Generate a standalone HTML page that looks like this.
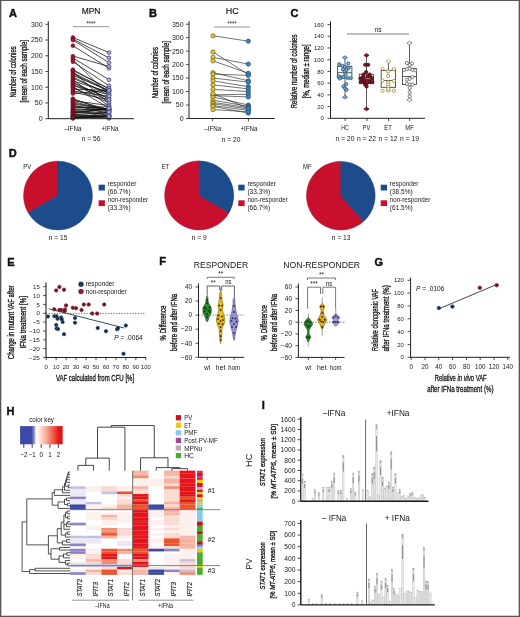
<!DOCTYPE html>
<html><head><meta charset="utf-8"><title>Figure</title>
<style>html,body{margin:0;padding:0;background:#fff;}svg{display:block;will-change:transform;}text{font-family:"Liberation Sans", sans-serif;}</style>
</head><body>
<svg width="520" height="617" viewBox="0 0 520 617" font-family='"Liberation Sans", sans-serif'>
<rect x="0.00" y="0.00" width="520.00" height="617.00" fill="#fff" />
<text x="12.90" y="17.15" font-size="11" text-anchor="middle" fill="#111" font-weight="bold" stroke="#111" stroke-width="0.45">A</text>
<text x="91.00" y="13.94" font-size="8.4" text-anchor="middle" fill="#151515" textLength="18.70" lengthAdjust="spacingAndGlyphs" stroke="#151515" stroke-width="0.15">MPN</text>
<line x1="72.90" y1="37.51" x2="109.00" y2="52.61" stroke="#111" stroke-width="0.75" />
<line x1="72.90" y1="39.08" x2="109.00" y2="57.96" stroke="#111" stroke-width="0.75" />
<line x1="72.90" y1="40.03" x2="109.00" y2="62.68" stroke="#111" stroke-width="0.75" />
<line x1="72.90" y1="45.69" x2="109.00" y2="68.35" stroke="#111" stroke-width="0.75" />
<line x1="72.90" y1="56.07" x2="109.00" y2="66.46" stroke="#111" stroke-width="0.75" />
<line x1="72.90" y1="57.96" x2="109.00" y2="79.68" stroke="#111" stroke-width="0.75" />
<line x1="72.90" y1="59.85" x2="109.00" y2="95.10" stroke="#111" stroke-width="0.75" />
<line x1="72.90" y1="61.74" x2="109.00" y2="85.66" stroke="#111" stroke-width="0.75" />
<line x1="72.90" y1="69.61" x2="109.00" y2="88.97" stroke="#111" stroke-width="0.75" />
<line x1="72.90" y1="70.55" x2="109.00" y2="88.54" stroke="#111" stroke-width="0.75" />
<line x1="72.90" y1="71.50" x2="109.00" y2="103.59" stroke="#111" stroke-width="0.75" />
<line x1="72.90" y1="72.75" x2="109.00" y2="90.59" stroke="#111" stroke-width="0.75" />
<line x1="72.90" y1="74.01" x2="109.00" y2="90.91" stroke="#111" stroke-width="0.75" />
<line x1="72.90" y1="75.27" x2="109.00" y2="90.90" stroke="#111" stroke-width="0.75" />
<line x1="72.90" y1="76.84" x2="109.00" y2="95.31" stroke="#111" stroke-width="0.75" />
<line x1="72.90" y1="78.42" x2="109.00" y2="93.29" stroke="#111" stroke-width="0.75" />
<line x1="72.90" y1="79.68" x2="109.00" y2="106.05" stroke="#111" stroke-width="0.75" />
<line x1="72.90" y1="80.94" x2="109.00" y2="92.20" stroke="#111" stroke-width="0.75" />
<line x1="72.90" y1="82.19" x2="109.00" y2="99.05" stroke="#111" stroke-width="0.75" />
<line x1="72.90" y1="83.45" x2="109.00" y2="97.90" stroke="#111" stroke-width="0.75" />
<line x1="72.90" y1="84.71" x2="109.00" y2="100.47" stroke="#111" stroke-width="0.75" />
<line x1="72.90" y1="85.66" x2="109.00" y2="94.65" stroke="#111" stroke-width="0.75" />
<line x1="72.90" y1="86.60" x2="109.00" y2="108.13" stroke="#111" stroke-width="0.75" />
<line x1="72.90" y1="87.86" x2="109.00" y2="102.63" stroke="#111" stroke-width="0.75" />
<line x1="72.90" y1="89.12" x2="109.00" y2="90.38" stroke="#111" stroke-width="0.75" />
<line x1="72.90" y1="91.01" x2="109.00" y2="96.23" stroke="#111" stroke-width="0.75" />
<line x1="72.90" y1="92.27" x2="109.00" y2="99.66" stroke="#111" stroke-width="0.75" />
<line x1="72.90" y1="93.52" x2="109.00" y2="90.38" stroke="#111" stroke-width="0.75" />
<line x1="72.90" y1="98.56" x2="109.00" y2="111.71" stroke="#111" stroke-width="0.75" />
<line x1="72.90" y1="99.82" x2="109.00" y2="109.44" stroke="#111" stroke-width="0.75" />
<line x1="72.90" y1="100.76" x2="109.00" y2="105.44" stroke="#111" stroke-width="0.75" />
<line x1="72.90" y1="101.71" x2="109.00" y2="110.09" stroke="#111" stroke-width="0.75" />
<line x1="72.90" y1="102.97" x2="109.00" y2="109.63" stroke="#111" stroke-width="0.75" />
<line x1="72.90" y1="103.91" x2="109.00" y2="109.69" stroke="#111" stroke-width="0.75" />
<line x1="72.90" y1="104.85" x2="109.00" y2="113.60" stroke="#111" stroke-width="0.75" />
<line x1="72.90" y1="106.11" x2="109.00" y2="108.95" stroke="#111" stroke-width="0.75" />
<line x1="72.90" y1="107.06" x2="109.00" y2="109.67" stroke="#111" stroke-width="0.75" />
<line x1="72.90" y1="108.00" x2="109.00" y2="106.65" stroke="#111" stroke-width="0.75" />
<line x1="72.90" y1="108.94" x2="109.00" y2="110.02" stroke="#111" stroke-width="0.75" />
<line x1="72.90" y1="109.89" x2="109.00" y2="109.47" stroke="#111" stroke-width="0.75" />
<line x1="72.90" y1="110.52" x2="109.00" y2="115.30" stroke="#111" stroke-width="0.75" />
<line x1="72.90" y1="111.15" x2="109.00" y2="109.97" stroke="#111" stroke-width="0.75" />
<line x1="72.90" y1="111.78" x2="109.00" y2="112.12" stroke="#111" stroke-width="0.75" />
<line x1="72.90" y1="112.41" x2="109.00" y2="114.05" stroke="#111" stroke-width="0.75" />
<line x1="72.90" y1="113.04" x2="109.00" y2="108.05" stroke="#111" stroke-width="0.75" />
<line x1="72.90" y1="113.66" x2="109.00" y2="108.42" stroke="#111" stroke-width="0.75" />
<line x1="72.90" y1="114.29" x2="109.00" y2="116.43" stroke="#111" stroke-width="0.75" />
<line x1="72.90" y1="114.92" x2="109.00" y2="111.64" stroke="#111" stroke-width="0.75" />
<line x1="72.90" y1="115.55" x2="109.00" y2="115.45" stroke="#111" stroke-width="0.75" />
<line x1="72.90" y1="116.18" x2="109.00" y2="116.55" stroke="#111" stroke-width="0.75" />
<line x1="72.90" y1="116.81" x2="109.00" y2="116.37" stroke="#111" stroke-width="0.75" />
<line x1="72.90" y1="117.13" x2="109.00" y2="118.39" stroke="#111" stroke-width="0.75" />
<line x1="72.90" y1="117.44" x2="109.00" y2="117.38" stroke="#111" stroke-width="0.75" />
<line x1="72.90" y1="117.76" x2="109.00" y2="115.91" stroke="#111" stroke-width="0.75" />
<line x1="72.90" y1="118.07" x2="109.00" y2="112.15" stroke="#111" stroke-width="0.75" />
<line x1="72.90" y1="118.39" x2="109.00" y2="116.38" stroke="#111" stroke-width="0.75" />
<circle cx="72.90" cy="37.51" r="1.9" fill="#a01a34" stroke="#62081a" stroke-width="0.55"/>
<circle cx="72.90" cy="39.08" r="1.9" fill="#a01a34" stroke="#62081a" stroke-width="0.55"/>
<circle cx="72.90" cy="40.03" r="1.9" fill="#a01a34" stroke="#62081a" stroke-width="0.55"/>
<circle cx="72.90" cy="45.69" r="1.9" fill="#a01a34" stroke="#62081a" stroke-width="0.55"/>
<circle cx="72.90" cy="56.07" r="1.9" fill="#a01a34" stroke="#62081a" stroke-width="0.55"/>
<circle cx="72.90" cy="57.96" r="1.9" fill="#a01a34" stroke="#62081a" stroke-width="0.55"/>
<circle cx="72.90" cy="59.85" r="1.9" fill="#a01a34" stroke="#62081a" stroke-width="0.55"/>
<circle cx="72.90" cy="61.74" r="1.9" fill="#a01a34" stroke="#62081a" stroke-width="0.55"/>
<circle cx="72.90" cy="69.61" r="1.9" fill="#a01a34" stroke="#62081a" stroke-width="0.55"/>
<circle cx="72.90" cy="70.55" r="1.9" fill="#a01a34" stroke="#62081a" stroke-width="0.55"/>
<circle cx="72.90" cy="71.50" r="1.9" fill="#a01a34" stroke="#62081a" stroke-width="0.55"/>
<circle cx="72.90" cy="72.75" r="1.9" fill="#a01a34" stroke="#62081a" stroke-width="0.55"/>
<circle cx="72.90" cy="74.01" r="1.9" fill="#a01a34" stroke="#62081a" stroke-width="0.55"/>
<circle cx="72.90" cy="75.27" r="1.9" fill="#a01a34" stroke="#62081a" stroke-width="0.55"/>
<circle cx="72.90" cy="76.84" r="1.9" fill="#a01a34" stroke="#62081a" stroke-width="0.55"/>
<circle cx="72.90" cy="78.42" r="1.9" fill="#a01a34" stroke="#62081a" stroke-width="0.55"/>
<circle cx="72.90" cy="79.68" r="1.9" fill="#a01a34" stroke="#62081a" stroke-width="0.55"/>
<circle cx="72.90" cy="80.94" r="1.9" fill="#a01a34" stroke="#62081a" stroke-width="0.55"/>
<circle cx="72.90" cy="82.19" r="1.9" fill="#a01a34" stroke="#62081a" stroke-width="0.55"/>
<circle cx="72.90" cy="83.45" r="1.9" fill="#a01a34" stroke="#62081a" stroke-width="0.55"/>
<circle cx="72.90" cy="84.71" r="1.9" fill="#a01a34" stroke="#62081a" stroke-width="0.55"/>
<circle cx="72.90" cy="85.66" r="1.9" fill="#a01a34" stroke="#62081a" stroke-width="0.55"/>
<circle cx="72.90" cy="86.60" r="1.9" fill="#a01a34" stroke="#62081a" stroke-width="0.55"/>
<circle cx="72.90" cy="87.86" r="1.9" fill="#a01a34" stroke="#62081a" stroke-width="0.55"/>
<circle cx="72.90" cy="89.12" r="1.9" fill="#a01a34" stroke="#62081a" stroke-width="0.55"/>
<circle cx="72.90" cy="91.01" r="1.9" fill="#a01a34" stroke="#62081a" stroke-width="0.55"/>
<circle cx="72.90" cy="92.27" r="1.9" fill="#a01a34" stroke="#62081a" stroke-width="0.55"/>
<circle cx="72.90" cy="93.52" r="1.9" fill="#a01a34" stroke="#62081a" stroke-width="0.55"/>
<circle cx="72.90" cy="98.56" r="1.9" fill="#a01a34" stroke="#62081a" stroke-width="0.55"/>
<circle cx="72.90" cy="99.82" r="1.9" fill="#a01a34" stroke="#62081a" stroke-width="0.55"/>
<circle cx="72.90" cy="100.76" r="1.9" fill="#a01a34" stroke="#62081a" stroke-width="0.55"/>
<circle cx="72.90" cy="101.71" r="1.9" fill="#a01a34" stroke="#62081a" stroke-width="0.55"/>
<circle cx="72.90" cy="102.97" r="1.9" fill="#a01a34" stroke="#62081a" stroke-width="0.55"/>
<circle cx="72.90" cy="103.91" r="1.9" fill="#a01a34" stroke="#62081a" stroke-width="0.55"/>
<circle cx="72.90" cy="104.85" r="1.9" fill="#a01a34" stroke="#62081a" stroke-width="0.55"/>
<circle cx="72.90" cy="106.11" r="1.9" fill="#a01a34" stroke="#62081a" stroke-width="0.55"/>
<circle cx="72.90" cy="107.06" r="1.9" fill="#a01a34" stroke="#62081a" stroke-width="0.55"/>
<circle cx="72.90" cy="108.00" r="1.9" fill="#a01a34" stroke="#62081a" stroke-width="0.55"/>
<circle cx="72.90" cy="108.94" r="1.9" fill="#a01a34" stroke="#62081a" stroke-width="0.55"/>
<circle cx="72.90" cy="109.89" r="1.9" fill="#a01a34" stroke="#62081a" stroke-width="0.55"/>
<circle cx="72.90" cy="110.52" r="1.9" fill="#a01a34" stroke="#62081a" stroke-width="0.55"/>
<circle cx="72.90" cy="111.15" r="1.9" fill="#a01a34" stroke="#62081a" stroke-width="0.55"/>
<circle cx="72.90" cy="111.78" r="1.9" fill="#a01a34" stroke="#62081a" stroke-width="0.55"/>
<circle cx="72.90" cy="112.41" r="1.9" fill="#a01a34" stroke="#62081a" stroke-width="0.55"/>
<circle cx="72.90" cy="113.04" r="1.9" fill="#a01a34" stroke="#62081a" stroke-width="0.55"/>
<circle cx="72.90" cy="113.66" r="1.9" fill="#a01a34" stroke="#62081a" stroke-width="0.55"/>
<circle cx="72.90" cy="114.29" r="1.9" fill="#a01a34" stroke="#62081a" stroke-width="0.55"/>
<circle cx="72.90" cy="114.92" r="1.9" fill="#a01a34" stroke="#62081a" stroke-width="0.55"/>
<circle cx="72.90" cy="115.55" r="1.9" fill="#a01a34" stroke="#62081a" stroke-width="0.55"/>
<circle cx="72.90" cy="116.18" r="1.9" fill="#a01a34" stroke="#62081a" stroke-width="0.55"/>
<circle cx="72.90" cy="116.81" r="1.9" fill="#a01a34" stroke="#62081a" stroke-width="0.55"/>
<circle cx="72.90" cy="117.13" r="1.9" fill="#a01a34" stroke="#62081a" stroke-width="0.55"/>
<circle cx="72.90" cy="117.44" r="1.9" fill="#a01a34" stroke="#62081a" stroke-width="0.55"/>
<circle cx="72.90" cy="117.76" r="1.9" fill="#a01a34" stroke="#62081a" stroke-width="0.55"/>
<circle cx="72.90" cy="118.07" r="1.9" fill="#a01a34" stroke="#62081a" stroke-width="0.55"/>
<circle cx="72.90" cy="118.39" r="1.9" fill="#a01a34" stroke="#62081a" stroke-width="0.55"/>
<circle cx="109.00" cy="52.61" r="1.9" fill="#a9abd2" stroke="#3c3f78" stroke-width="0.7"/>
<circle cx="109.00" cy="57.96" r="1.9" fill="#a9abd2" stroke="#3c3f78" stroke-width="0.7"/>
<circle cx="109.00" cy="62.68" r="1.9" fill="#a9abd2" stroke="#3c3f78" stroke-width="0.7"/>
<circle cx="109.00" cy="68.35" r="1.9" fill="#a9abd2" stroke="#3c3f78" stroke-width="0.7"/>
<circle cx="109.00" cy="66.46" r="1.9" fill="#a9abd2" stroke="#3c3f78" stroke-width="0.7"/>
<circle cx="109.00" cy="79.68" r="1.9" fill="#a9abd2" stroke="#3c3f78" stroke-width="0.7"/>
<circle cx="109.00" cy="95.10" r="1.9" fill="#a9abd2" stroke="#3c3f78" stroke-width="0.7"/>
<circle cx="109.00" cy="85.66" r="1.9" fill="#a9abd2" stroke="#3c3f78" stroke-width="0.7"/>
<circle cx="109.00" cy="88.97" r="1.9" fill="#a9abd2" stroke="#3c3f78" stroke-width="0.7"/>
<circle cx="109.00" cy="88.54" r="1.9" fill="#a9abd2" stroke="#3c3f78" stroke-width="0.7"/>
<circle cx="109.00" cy="103.59" r="1.9" fill="#a9abd2" stroke="#3c3f78" stroke-width="0.7"/>
<circle cx="109.00" cy="90.59" r="1.9" fill="#a9abd2" stroke="#3c3f78" stroke-width="0.7"/>
<circle cx="109.00" cy="90.91" r="1.9" fill="#a9abd2" stroke="#3c3f78" stroke-width="0.7"/>
<circle cx="109.00" cy="90.90" r="1.9" fill="#a9abd2" stroke="#3c3f78" stroke-width="0.7"/>
<circle cx="109.00" cy="95.31" r="1.9" fill="#a9abd2" stroke="#3c3f78" stroke-width="0.7"/>
<circle cx="109.00" cy="93.29" r="1.9" fill="#a9abd2" stroke="#3c3f78" stroke-width="0.7"/>
<circle cx="109.00" cy="106.05" r="1.9" fill="#a9abd2" stroke="#3c3f78" stroke-width="0.7"/>
<circle cx="109.00" cy="92.20" r="1.9" fill="#a9abd2" stroke="#3c3f78" stroke-width="0.7"/>
<circle cx="109.00" cy="99.05" r="1.9" fill="#a9abd2" stroke="#3c3f78" stroke-width="0.7"/>
<circle cx="109.00" cy="97.90" r="1.9" fill="#a9abd2" stroke="#3c3f78" stroke-width="0.7"/>
<circle cx="109.00" cy="100.47" r="1.9" fill="#a9abd2" stroke="#3c3f78" stroke-width="0.7"/>
<circle cx="109.00" cy="94.65" r="1.9" fill="#a9abd2" stroke="#3c3f78" stroke-width="0.7"/>
<circle cx="109.00" cy="108.13" r="1.9" fill="#a9abd2" stroke="#3c3f78" stroke-width="0.7"/>
<circle cx="109.00" cy="102.63" r="1.9" fill="#a9abd2" stroke="#3c3f78" stroke-width="0.7"/>
<circle cx="109.00" cy="90.38" r="1.9" fill="#a9abd2" stroke="#3c3f78" stroke-width="0.7"/>
<circle cx="109.00" cy="96.23" r="1.9" fill="#a9abd2" stroke="#3c3f78" stroke-width="0.7"/>
<circle cx="109.00" cy="99.66" r="1.9" fill="#a9abd2" stroke="#3c3f78" stroke-width="0.7"/>
<circle cx="109.00" cy="90.38" r="1.9" fill="#a9abd2" stroke="#3c3f78" stroke-width="0.7"/>
<circle cx="109.00" cy="111.71" r="1.9" fill="#a9abd2" stroke="#3c3f78" stroke-width="0.7"/>
<circle cx="109.00" cy="109.44" r="1.9" fill="#a9abd2" stroke="#3c3f78" stroke-width="0.7"/>
<circle cx="109.00" cy="105.44" r="1.9" fill="#a9abd2" stroke="#3c3f78" stroke-width="0.7"/>
<circle cx="109.00" cy="110.09" r="1.9" fill="#a9abd2" stroke="#3c3f78" stroke-width="0.7"/>
<circle cx="109.00" cy="109.63" r="1.9" fill="#a9abd2" stroke="#3c3f78" stroke-width="0.7"/>
<circle cx="109.00" cy="109.69" r="1.9" fill="#a9abd2" stroke="#3c3f78" stroke-width="0.7"/>
<circle cx="109.00" cy="113.60" r="1.9" fill="#a9abd2" stroke="#3c3f78" stroke-width="0.7"/>
<circle cx="109.00" cy="108.95" r="1.9" fill="#a9abd2" stroke="#3c3f78" stroke-width="0.7"/>
<circle cx="109.00" cy="109.67" r="1.9" fill="#a9abd2" stroke="#3c3f78" stroke-width="0.7"/>
<circle cx="109.00" cy="106.65" r="1.9" fill="#a9abd2" stroke="#3c3f78" stroke-width="0.7"/>
<circle cx="109.00" cy="110.02" r="1.9" fill="#a9abd2" stroke="#3c3f78" stroke-width="0.7"/>
<circle cx="109.00" cy="109.47" r="1.9" fill="#a9abd2" stroke="#3c3f78" stroke-width="0.7"/>
<circle cx="109.00" cy="115.30" r="1.9" fill="#a9abd2" stroke="#3c3f78" stroke-width="0.7"/>
<circle cx="109.00" cy="109.97" r="1.9" fill="#a9abd2" stroke="#3c3f78" stroke-width="0.7"/>
<circle cx="109.00" cy="112.12" r="1.9" fill="#a9abd2" stroke="#3c3f78" stroke-width="0.7"/>
<circle cx="109.00" cy="114.05" r="1.9" fill="#a9abd2" stroke="#3c3f78" stroke-width="0.7"/>
<circle cx="109.00" cy="108.05" r="1.9" fill="#a9abd2" stroke="#3c3f78" stroke-width="0.7"/>
<circle cx="109.00" cy="108.42" r="1.9" fill="#a9abd2" stroke="#3c3f78" stroke-width="0.7"/>
<circle cx="109.00" cy="116.43" r="1.9" fill="#a9abd2" stroke="#3c3f78" stroke-width="0.7"/>
<circle cx="109.00" cy="111.64" r="1.9" fill="#a9abd2" stroke="#3c3f78" stroke-width="0.7"/>
<circle cx="109.00" cy="115.45" r="1.9" fill="#a9abd2" stroke="#3c3f78" stroke-width="0.7"/>
<circle cx="109.00" cy="116.55" r="1.9" fill="#a9abd2" stroke="#3c3f78" stroke-width="0.7"/>
<circle cx="109.00" cy="116.37" r="1.9" fill="#a9abd2" stroke="#3c3f78" stroke-width="0.7"/>
<circle cx="109.00" cy="118.39" r="1.9" fill="#a9abd2" stroke="#3c3f78" stroke-width="0.7"/>
<circle cx="109.00" cy="117.38" r="1.9" fill="#a9abd2" stroke="#3c3f78" stroke-width="0.7"/>
<circle cx="109.00" cy="115.91" r="1.9" fill="#a9abd2" stroke="#3c3f78" stroke-width="0.7"/>
<circle cx="109.00" cy="112.15" r="1.9" fill="#a9abd2" stroke="#3c3f78" stroke-width="0.7"/>
<circle cx="109.00" cy="116.38" r="1.9" fill="#a9abd2" stroke="#3c3f78" stroke-width="0.7"/>
<line x1="48.30" y1="21.30" x2="48.30" y2="118.80" stroke="#222" stroke-width="1.0" />
<line x1="45.30" y1="118.70" x2="48.30" y2="118.70" stroke="#222" stroke-width="0.8" />
<text x="42.60" y="121.08" font-size="6.8" text-anchor="end" fill="#1a1a1a" textLength="3.90" lengthAdjust="spacingAndGlyphs" >0</text>
<line x1="45.30" y1="102.97" x2="48.30" y2="102.97" stroke="#222" stroke-width="0.8" />
<text x="42.60" y="105.34" font-size="6.8" text-anchor="end" fill="#1a1a1a" textLength="7.80" lengthAdjust="spacingAndGlyphs" >50</text>
<line x1="45.30" y1="87.23" x2="48.30" y2="87.23" stroke="#222" stroke-width="0.8" />
<text x="42.60" y="89.61" font-size="6.8" text-anchor="end" fill="#1a1a1a" textLength="11.70" lengthAdjust="spacingAndGlyphs" >100</text>
<line x1="45.30" y1="71.50" x2="48.30" y2="71.50" stroke="#222" stroke-width="0.8" />
<text x="42.60" y="73.88" font-size="6.8" text-anchor="end" fill="#1a1a1a" textLength="11.70" lengthAdjust="spacingAndGlyphs" >150</text>
<line x1="45.30" y1="55.76" x2="48.30" y2="55.76" stroke="#222" stroke-width="0.8" />
<text x="42.60" y="58.14" font-size="6.8" text-anchor="end" fill="#1a1a1a" textLength="11.70" lengthAdjust="spacingAndGlyphs" >200</text>
<line x1="45.30" y1="40.03" x2="48.30" y2="40.03" stroke="#222" stroke-width="0.8" />
<text x="42.60" y="42.41" font-size="6.8" text-anchor="end" fill="#1a1a1a" textLength="11.70" lengthAdjust="spacingAndGlyphs" >250</text>
<line x1="45.30" y1="24.29" x2="48.30" y2="24.29" stroke="#222" stroke-width="0.8" />
<text x="42.60" y="26.67" font-size="6.8" text-anchor="end" fill="#1a1a1a" textLength="11.70" lengthAdjust="spacingAndGlyphs" >300</text>
<line x1="48.30" y1="118.70" x2="134.00" y2="118.70" stroke="#222" stroke-width="1.0" />
<line x1="73.00" y1="26.70" x2="109.00" y2="26.70" stroke="#888" stroke-width="0.9" />
<text x="91.00" y="25.88" font-size="6.5" text-anchor="middle" fill="#151515" textLength="9.00" lengthAdjust="spacingAndGlyphs" >****</text>
<text x="72.90" y="131.05" font-size="7" text-anchor="middle" fill="#151515" textLength="17.00" lengthAdjust="spacingAndGlyphs" >–IFNa</text>
<text x="110.00" y="131.05" font-size="7" text-anchor="middle" fill="#151515" textLength="17.00" lengthAdjust="spacingAndGlyphs" >+IFNa</text>
<text x="91.00" y="141.45" font-size="7" text-anchor="middle" fill="#151515" textLength="18.70" lengthAdjust="spacingAndGlyphs" >n = 56</text>
<text x="13.40" y="74.77" font-size="8.2" text-anchor="middle" fill="#151515" textLength="51.20" lengthAdjust="spacingAndGlyphs" transform="rotate(-90 13.40 71.90)" stroke="#111" stroke-width="0.3">Number of colonies</text>
<text x="24.10" y="74.07" font-size="8.2" text-anchor="middle" fill="#151515" textLength="62.50" lengthAdjust="spacingAndGlyphs" transform="rotate(-90 24.10 71.20)" stroke="#111" stroke-width="0.3">[mean of each sample]</text>
<text x="153.00" y="17.05" font-size="11" text-anchor="middle" fill="#111" font-weight="bold" stroke="#111" stroke-width="0.45">B</text>
<text x="232.30" y="14.01" font-size="8.6" text-anchor="middle" fill="#151515" textLength="13.00" lengthAdjust="spacingAndGlyphs" stroke="#151515" stroke-width="0.15">HC</text>
<line x1="213.00" y1="35.79" x2="248.30" y2="41.18" stroke="#2a2a2a" stroke-width="0.65" />
<line x1="213.00" y1="51.96" x2="248.30" y2="74.59" stroke="#2a2a2a" stroke-width="0.65" />
<line x1="213.00" y1="57.35" x2="248.30" y2="64.08" stroke="#2a2a2a" stroke-width="0.65" />
<line x1="213.00" y1="60.85" x2="248.30" y2="73.24" stroke="#2a2a2a" stroke-width="0.65" />
<line x1="213.00" y1="72.70" x2="248.30" y2="80.78" stroke="#2a2a2a" stroke-width="0.65" />
<line x1="213.00" y1="74.05" x2="248.30" y2="75.40" stroke="#2a2a2a" stroke-width="0.65" />
<line x1="213.00" y1="78.09" x2="248.30" y2="82.13" stroke="#2a2a2a" stroke-width="0.65" />
<line x1="213.00" y1="80.78" x2="248.30" y2="86.71" stroke="#2a2a2a" stroke-width="0.65" />
<line x1="213.00" y1="84.83" x2="248.30" y2="88.87" stroke="#2a2a2a" stroke-width="0.65" />
<line x1="213.00" y1="89.40" x2="248.30" y2="91.56" stroke="#2a2a2a" stroke-width="0.65" />
<line x1="213.00" y1="94.79" x2="248.30" y2="94.25" stroke="#2a2a2a" stroke-width="0.65" />
<line x1="213.00" y1="95.60" x2="248.30" y2="96.95" stroke="#2a2a2a" stroke-width="0.65" />
<line x1="213.00" y1="96.95" x2="248.30" y2="105.03" stroke="#2a2a2a" stroke-width="0.65" />
<line x1="213.00" y1="100.18" x2="248.30" y2="106.38" stroke="#2a2a2a" stroke-width="0.65" />
<line x1="213.00" y1="102.34" x2="248.30" y2="107.72" stroke="#2a2a2a" stroke-width="0.65" />
<line x1="213.00" y1="103.68" x2="248.30" y2="109.07" stroke="#2a2a2a" stroke-width="0.65" />
<line x1="213.00" y1="105.57" x2="248.30" y2="110.42" stroke="#2a2a2a" stroke-width="0.65" />
<line x1="213.00" y1="106.38" x2="248.30" y2="113.11" stroke="#2a2a2a" stroke-width="0.65" />
<line x1="213.00" y1="109.61" x2="248.30" y2="111.77" stroke="#2a2a2a" stroke-width="0.65" />
<line x1="213.00" y1="93.72" x2="248.30" y2="108.26" stroke="#2a2a2a" stroke-width="0.65" />
<circle cx="213.00" cy="35.79" r="2.1" fill="#e8c93a" stroke="#6b5d10" stroke-width="0.75"/>
<circle cx="213.00" cy="51.96" r="2.1" fill="#e8c93a" stroke="#6b5d10" stroke-width="0.75"/>
<circle cx="213.00" cy="57.35" r="2.1" fill="#e8c93a" stroke="#6b5d10" stroke-width="0.75"/>
<circle cx="213.00" cy="60.85" r="2.1" fill="#e8c93a" stroke="#6b5d10" stroke-width="0.75"/>
<circle cx="213.00" cy="72.70" r="2.1" fill="#e8c93a" stroke="#6b5d10" stroke-width="0.75"/>
<circle cx="213.00" cy="74.05" r="2.1" fill="#e8c93a" stroke="#6b5d10" stroke-width="0.75"/>
<circle cx="213.00" cy="78.09" r="2.1" fill="#e8c93a" stroke="#6b5d10" stroke-width="0.75"/>
<circle cx="213.00" cy="80.78" r="2.1" fill="#e8c93a" stroke="#6b5d10" stroke-width="0.75"/>
<circle cx="213.00" cy="84.83" r="2.1" fill="#e8c93a" stroke="#6b5d10" stroke-width="0.75"/>
<circle cx="213.00" cy="89.40" r="2.1" fill="#e8c93a" stroke="#6b5d10" stroke-width="0.75"/>
<circle cx="213.00" cy="94.79" r="2.1" fill="#e8c93a" stroke="#6b5d10" stroke-width="0.75"/>
<circle cx="213.00" cy="95.60" r="2.1" fill="#e8c93a" stroke="#6b5d10" stroke-width="0.75"/>
<circle cx="213.00" cy="96.95" r="2.1" fill="#e8c93a" stroke="#6b5d10" stroke-width="0.75"/>
<circle cx="213.00" cy="100.18" r="2.1" fill="#e8c93a" stroke="#6b5d10" stroke-width="0.75"/>
<circle cx="213.00" cy="102.34" r="2.1" fill="#e8c93a" stroke="#6b5d10" stroke-width="0.75"/>
<circle cx="213.00" cy="103.68" r="2.1" fill="#e8c93a" stroke="#6b5d10" stroke-width="0.75"/>
<circle cx="213.00" cy="105.57" r="2.1" fill="#e8c93a" stroke="#6b5d10" stroke-width="0.75"/>
<circle cx="213.00" cy="106.38" r="2.1" fill="#e8c93a" stroke="#6b5d10" stroke-width="0.75"/>
<circle cx="213.00" cy="109.61" r="2.1" fill="#e8c93a" stroke="#6b5d10" stroke-width="0.75"/>
<circle cx="213.00" cy="93.72" r="2.1" fill="#e8c93a" stroke="#6b5d10" stroke-width="0.75"/>
<circle cx="248.30" cy="41.18" r="2.1" fill="#3a88c2" stroke="#1f4a70" stroke-width="0.75"/>
<circle cx="248.30" cy="74.59" r="2.1" fill="#3a88c2" stroke="#1f4a70" stroke-width="0.75"/>
<circle cx="248.30" cy="64.08" r="2.1" fill="#3a88c2" stroke="#1f4a70" stroke-width="0.75"/>
<circle cx="248.30" cy="73.24" r="2.1" fill="#3a88c2" stroke="#1f4a70" stroke-width="0.75"/>
<circle cx="248.30" cy="80.78" r="2.1" fill="#3a88c2" stroke="#1f4a70" stroke-width="0.75"/>
<circle cx="248.30" cy="75.40" r="2.1" fill="#3a88c2" stroke="#1f4a70" stroke-width="0.75"/>
<circle cx="248.30" cy="82.13" r="2.1" fill="#3a88c2" stroke="#1f4a70" stroke-width="0.75"/>
<circle cx="248.30" cy="86.71" r="2.1" fill="#3a88c2" stroke="#1f4a70" stroke-width="0.75"/>
<circle cx="248.30" cy="88.87" r="2.1" fill="#3a88c2" stroke="#1f4a70" stroke-width="0.75"/>
<circle cx="248.30" cy="91.56" r="2.1" fill="#3a88c2" stroke="#1f4a70" stroke-width="0.75"/>
<circle cx="248.30" cy="94.25" r="2.1" fill="#3a88c2" stroke="#1f4a70" stroke-width="0.75"/>
<circle cx="248.30" cy="96.95" r="2.1" fill="#3a88c2" stroke="#1f4a70" stroke-width="0.75"/>
<circle cx="248.30" cy="105.03" r="2.1" fill="#3a88c2" stroke="#1f4a70" stroke-width="0.75"/>
<circle cx="248.30" cy="106.38" r="2.1" fill="#3a88c2" stroke="#1f4a70" stroke-width="0.75"/>
<circle cx="248.30" cy="107.72" r="2.1" fill="#3a88c2" stroke="#1f4a70" stroke-width="0.75"/>
<circle cx="248.30" cy="109.07" r="2.1" fill="#3a88c2" stroke="#1f4a70" stroke-width="0.75"/>
<circle cx="248.30" cy="110.42" r="2.1" fill="#3a88c2" stroke="#1f4a70" stroke-width="0.75"/>
<circle cx="248.30" cy="113.11" r="2.1" fill="#3a88c2" stroke="#1f4a70" stroke-width="0.75"/>
<circle cx="248.30" cy="111.77" r="2.1" fill="#3a88c2" stroke="#1f4a70" stroke-width="0.75"/>
<circle cx="248.30" cy="108.26" r="2.1" fill="#3a88c2" stroke="#1f4a70" stroke-width="0.75"/>
<line x1="189.00" y1="21.30" x2="189.00" y2="118.60" stroke="#222" stroke-width="1.0" />
<line x1="186.00" y1="118.50" x2="189.00" y2="118.50" stroke="#222" stroke-width="0.8" />
<text x="183.60" y="120.88" font-size="6.8" text-anchor="end" fill="#1a1a1a" textLength="3.90" lengthAdjust="spacingAndGlyphs" >0</text>
<line x1="186.00" y1="105.03" x2="189.00" y2="105.03" stroke="#222" stroke-width="0.8" />
<text x="183.60" y="107.41" font-size="6.8" text-anchor="end" fill="#1a1a1a" textLength="7.80" lengthAdjust="spacingAndGlyphs" >50</text>
<line x1="186.00" y1="91.56" x2="189.00" y2="91.56" stroke="#222" stroke-width="0.8" />
<text x="183.60" y="93.94" font-size="6.8" text-anchor="end" fill="#1a1a1a" textLength="11.70" lengthAdjust="spacingAndGlyphs" >100</text>
<line x1="186.00" y1="78.09" x2="189.00" y2="78.09" stroke="#222" stroke-width="0.8" />
<text x="183.60" y="80.47" font-size="6.8" text-anchor="end" fill="#1a1a1a" textLength="11.70" lengthAdjust="spacingAndGlyphs" >150</text>
<line x1="186.00" y1="64.62" x2="189.00" y2="64.62" stroke="#222" stroke-width="0.8" />
<text x="183.60" y="67.00" font-size="6.8" text-anchor="end" fill="#1a1a1a" textLength="11.70" lengthAdjust="spacingAndGlyphs" >200</text>
<line x1="186.00" y1="51.15" x2="189.00" y2="51.15" stroke="#222" stroke-width="0.8" />
<text x="183.60" y="53.53" font-size="6.8" text-anchor="end" fill="#1a1a1a" textLength="11.70" lengthAdjust="spacingAndGlyphs" >250</text>
<line x1="186.00" y1="37.68" x2="189.00" y2="37.68" stroke="#222" stroke-width="0.8" />
<text x="183.60" y="40.06" font-size="6.8" text-anchor="end" fill="#1a1a1a" textLength="11.70" lengthAdjust="spacingAndGlyphs" >300</text>
<line x1="186.00" y1="24.21" x2="189.00" y2="24.21" stroke="#222" stroke-width="0.8" />
<text x="183.60" y="26.59" font-size="6.8" text-anchor="end" fill="#1a1a1a" textLength="11.70" lengthAdjust="spacingAndGlyphs" >350</text>
<line x1="189.00" y1="118.50" x2="274.60" y2="118.50" stroke="#222" stroke-width="1.0" />
<line x1="212.70" y1="118.50" x2="212.70" y2="121.30" stroke="#222" stroke-width="0.8" />
<line x1="248.40" y1="118.50" x2="248.40" y2="121.30" stroke="#222" stroke-width="0.8" />
<line x1="214.00" y1="27.00" x2="250.00" y2="27.00" stroke="#888" stroke-width="0.9" />
<text x="232.00" y="25.97" font-size="6.5" text-anchor="middle" fill="#151515" textLength="9.00" lengthAdjust="spacingAndGlyphs" >****</text>
<text x="212.70" y="131.25" font-size="7" text-anchor="middle" fill="#151515" textLength="17.00" lengthAdjust="spacingAndGlyphs" >–IFNa</text>
<text x="249.00" y="131.25" font-size="7" text-anchor="middle" fill="#151515" textLength="17.00" lengthAdjust="spacingAndGlyphs" >+IFNa</text>
<text x="231.00" y="141.95" font-size="7" text-anchor="middle" fill="#151515" textLength="18.70" lengthAdjust="spacingAndGlyphs" >n = 20</text>
<text x="155.20" y="75.57" font-size="8.2" text-anchor="middle" fill="#151515" textLength="51.20" lengthAdjust="spacingAndGlyphs" transform="rotate(-90 155.20 72.70)" stroke="#111" stroke-width="0.3">Number of colonies</text>
<text x="165.80" y="75.07" font-size="8.2" text-anchor="middle" fill="#151515" textLength="62.50" lengthAdjust="spacingAndGlyphs" transform="rotate(-90 165.80 72.20)" stroke="#111" stroke-width="0.3">[mean of each sample]</text>
<text x="294.40" y="17.05" font-size="11" text-anchor="middle" fill="#111" font-weight="bold" stroke="#111" stroke-width="0.45">C</text>
<line x1="330.50" y1="21.30" x2="330.50" y2="118.40" stroke="#222" stroke-width="1.0" />
<line x1="327.50" y1="118.30" x2="330.50" y2="118.30" stroke="#222" stroke-width="0.8" />
<text x="323.90" y="120.40" font-size="6.0" text-anchor="end" fill="#1a1a1a" textLength="3.28" lengthAdjust="spacingAndGlyphs" >0</text>
<line x1="327.50" y1="106.58" x2="330.50" y2="106.58" stroke="#222" stroke-width="0.8" />
<text x="323.90" y="108.68" font-size="6.0" text-anchor="end" fill="#1a1a1a" textLength="6.56" lengthAdjust="spacingAndGlyphs" >20</text>
<line x1="327.50" y1="94.86" x2="330.50" y2="94.86" stroke="#222" stroke-width="0.8" />
<text x="323.90" y="96.96" font-size="6.0" text-anchor="end" fill="#1a1a1a" textLength="6.56" lengthAdjust="spacingAndGlyphs" >40</text>
<line x1="327.50" y1="83.14" x2="330.50" y2="83.14" stroke="#222" stroke-width="0.8" />
<text x="323.90" y="85.24" font-size="6.0" text-anchor="end" fill="#1a1a1a" textLength="6.56" lengthAdjust="spacingAndGlyphs" >60</text>
<line x1="327.50" y1="71.42" x2="330.50" y2="71.42" stroke="#222" stroke-width="0.8" />
<text x="323.90" y="73.52" font-size="6.0" text-anchor="end" fill="#1a1a1a" textLength="6.56" lengthAdjust="spacingAndGlyphs" >80</text>
<line x1="327.50" y1="59.70" x2="330.50" y2="59.70" stroke="#222" stroke-width="0.8" />
<text x="323.90" y="61.80" font-size="6.0" text-anchor="end" fill="#1a1a1a" textLength="9.84" lengthAdjust="spacingAndGlyphs" >100</text>
<line x1="327.50" y1="47.98" x2="330.50" y2="47.98" stroke="#222" stroke-width="0.8" />
<text x="323.90" y="50.08" font-size="6.0" text-anchor="end" fill="#1a1a1a" textLength="9.84" lengthAdjust="spacingAndGlyphs" >120</text>
<line x1="327.50" y1="36.26" x2="330.50" y2="36.26" stroke="#222" stroke-width="0.8" />
<text x="323.90" y="38.36" font-size="6.0" text-anchor="end" fill="#1a1a1a" textLength="9.84" lengthAdjust="spacingAndGlyphs" >140</text>
<line x1="327.50" y1="24.54" x2="330.50" y2="24.54" stroke="#222" stroke-width="0.8" />
<text x="323.90" y="26.64" font-size="6.0" text-anchor="end" fill="#1a1a1a" textLength="9.84" lengthAdjust="spacingAndGlyphs" >160</text>
<line x1="330.50" y1="118.30" x2="425.00" y2="118.30" stroke="#222" stroke-width="1.0" />
<line x1="345.20" y1="118.30" x2="345.20" y2="121.00" stroke="#222" stroke-width="0.8" />
<line x1="366.90" y1="118.30" x2="366.90" y2="121.00" stroke="#222" stroke-width="0.8" />
<line x1="388.50" y1="118.30" x2="388.50" y2="121.00" stroke="#222" stroke-width="0.8" />
<line x1="409.60" y1="118.30" x2="409.60" y2="121.00" stroke="#222" stroke-width="0.8" />
<line x1="347.00" y1="34.00" x2="409.00" y2="34.00" stroke="#555" stroke-width="0.75" />
<text x="378.00" y="31.68" font-size="6.8" text-anchor="middle" fill="#151515" textLength="7.00" lengthAdjust="spacingAndGlyphs" >ns</text>
<text x="294.60" y="74.27" font-size="8.2" text-anchor="middle" fill="#151515" textLength="73.60" lengthAdjust="spacingAndGlyphs" transform="rotate(-90 294.60 71.40)" stroke="#111" stroke-width="0.3">Relative number of colonies</text>
<text x="306.40" y="74.17" font-size="8.2" text-anchor="middle" fill="#151515" textLength="53.80" lengthAdjust="spacingAndGlyphs" transform="rotate(-90 306.40 71.30)" stroke="#111" stroke-width="0.3">[%, median ± range]</text>
<line x1="345.00" y1="57.60" x2="345.00" y2="66.30" stroke="#333" stroke-width="0.8" />
<line x1="345.00" y1="77.90" x2="345.00" y2="97.20" stroke="#333" stroke-width="0.8" />
<rect x="337.6" y="66.3" width="14.30" height="11.60" fill="none" stroke="#333" stroke-width="0.8"/>
<line x1="337.60" y1="72.70" x2="351.90" y2="72.70" stroke="#333" stroke-width="0.8" />
<path d="M342.40 57.60 L345.00 55.80 L347.60 57.60 L345.00 59.40 Z" fill="#86aed0" stroke="#1f5685" stroke-width="0.7"/>
<path d="M342.40 97.20 L345.00 95.40 L347.60 97.20 L345.00 99.00 Z" fill="#86aed0" stroke="#1f5685" stroke-width="0.7"/>
<circle cx="339.20" cy="64.20" r="1.6" fill="#86aed0" stroke="#1f5685" stroke-width="0.8"/>
<circle cx="348.20" cy="63.50" r="1.6" fill="#86aed0" stroke="#1f5685" stroke-width="0.8"/>
<circle cx="342.40" cy="65.80" r="1.6" fill="#86aed0" stroke="#1f5685" stroke-width="0.8"/>
<circle cx="345.00" cy="66.90" r="1.6" fill="#86aed0" stroke="#1f5685" stroke-width="0.8"/>
<circle cx="348.70" cy="67.90" r="1.6" fill="#86aed0" stroke="#1f5685" stroke-width="0.8"/>
<circle cx="342.90" cy="69.50" r="1.6" fill="#86aed0" stroke="#1f5685" stroke-width="0.8"/>
<circle cx="346.60" cy="70.00" r="1.6" fill="#86aed0" stroke="#1f5685" stroke-width="0.8"/>
<circle cx="344.50" cy="71.60" r="1.6" fill="#86aed0" stroke="#1f5685" stroke-width="0.8"/>
<circle cx="345.50" cy="74.20" r="1.6" fill="#86aed0" stroke="#1f5685" stroke-width="0.8"/>
<circle cx="338.70" cy="76.30" r="1.6" fill="#86aed0" stroke="#1f5685" stroke-width="0.8"/>
<circle cx="341.30" cy="77.40" r="1.6" fill="#86aed0" stroke="#1f5685" stroke-width="0.8"/>
<circle cx="343.40" cy="76.90" r="1.6" fill="#86aed0" stroke="#1f5685" stroke-width="0.8"/>
<circle cx="347.60" cy="77.90" r="1.6" fill="#86aed0" stroke="#1f5685" stroke-width="0.8"/>
<circle cx="350.80" cy="78.20" r="1.6" fill="#86aed0" stroke="#1f5685" stroke-width="0.8"/>
<circle cx="339.70" cy="78.50" r="1.6" fill="#86aed0" stroke="#1f5685" stroke-width="0.8"/>
<circle cx="343.40" cy="86.40" r="1.6" fill="#86aed0" stroke="#1f5685" stroke-width="0.8"/>
<circle cx="346.10" cy="84.20" r="1.6" fill="#86aed0" stroke="#1f5685" stroke-width="0.8"/>
<circle cx="345.00" cy="88.50" r="1.6" fill="#86aed0" stroke="#1f5685" stroke-width="0.8"/>
<circle cx="346.60" cy="89.80" r="1.6" fill="#86aed0" stroke="#1f5685" stroke-width="0.8"/>
<line x1="366.50" y1="55.30" x2="366.50" y2="74.20" stroke="#333" stroke-width="0.8" />
<line x1="366.50" y1="83.70" x2="366.50" y2="109.00" stroke="#333" stroke-width="0.8" />
<rect x="359.2" y="74.2" width="14.30" height="9.50" fill="none" stroke="#333" stroke-width="0.8"/>
<line x1="359.20" y1="77.50" x2="373.50" y2="77.50" stroke="#333" stroke-width="0.8" />
<path d="M363.90 55.30 L366.50 53.50 L369.10 55.30 L366.50 57.10 Z" fill="#8a1424" stroke="#3d0810" stroke-width="0.7"/>
<path d="M363.90 109.00 L366.50 107.20 L369.10 109.00 L366.50 110.80 Z" fill="#8a1424" stroke="#3d0810" stroke-width="0.7"/>
<circle cx="365.20" cy="64.80" r="1.6" fill="#8a1424" stroke="#3d0810" stroke-width="0.8"/>
<circle cx="368.20" cy="64.80" r="1.6" fill="#8a1424" stroke="#3d0810" stroke-width="0.8"/>
<circle cx="366.10" cy="72.10" r="1.6" fill="#8a1424" stroke="#3d0810" stroke-width="0.8"/>
<circle cx="363.50" cy="74.50" r="1.6" fill="#8a1424" stroke="#3d0810" stroke-width="0.8"/>
<circle cx="369.50" cy="74.50" r="1.6" fill="#8a1424" stroke="#3d0810" stroke-width="0.8"/>
<circle cx="360.50" cy="78.50" r="1.6" fill="#8a1424" stroke="#3d0810" stroke-width="0.8"/>
<circle cx="362.50" cy="79.50" r="1.6" fill="#8a1424" stroke="#3d0810" stroke-width="0.8"/>
<circle cx="365.50" cy="80.00" r="1.6" fill="#8a1424" stroke="#3d0810" stroke-width="0.8"/>
<circle cx="368.70" cy="80.50" r="1.6" fill="#8a1424" stroke="#3d0810" stroke-width="0.8"/>
<circle cx="371.90" cy="78.50" r="1.6" fill="#8a1424" stroke="#3d0810" stroke-width="0.8"/>
<circle cx="361.00" cy="82.00" r="1.6" fill="#8a1424" stroke="#3d0810" stroke-width="0.8"/>
<circle cx="364.50" cy="82.00" r="1.6" fill="#8a1424" stroke="#3d0810" stroke-width="0.8"/>
<circle cx="369.80" cy="82.00" r="1.6" fill="#8a1424" stroke="#3d0810" stroke-width="0.8"/>
<circle cx="372.40" cy="82.00" r="1.6" fill="#8a1424" stroke="#3d0810" stroke-width="0.8"/>
<circle cx="366.60" cy="83.50" r="1.6" fill="#8a1424" stroke="#3d0810" stroke-width="0.8"/>
<circle cx="366.60" cy="86.50" r="1.6" fill="#8a1424" stroke="#3d0810" stroke-width="0.8"/>
<circle cx="363.00" cy="77.00" r="1.6" fill="#8a1424" stroke="#3d0810" stroke-width="0.8"/>
<circle cx="367.50" cy="76.50" r="1.6" fill="#8a1424" stroke="#3d0810" stroke-width="0.8"/>
<circle cx="370.50" cy="76.80" r="1.6" fill="#8a1424" stroke="#3d0810" stroke-width="0.8"/>
<circle cx="365.00" cy="84.50" r="1.6" fill="#8a1424" stroke="#3d0810" stroke-width="0.8"/>
<line x1="388.40" y1="61.20" x2="388.40" y2="70.30" stroke="#333" stroke-width="0.8" />
<line x1="388.40" y1="87.30" x2="388.40" y2="90.70" stroke="#333" stroke-width="0.8" />
<rect x="381.2" y="70.3" width="14.40" height="17.00" fill="none" stroke="#333" stroke-width="0.8"/>
<line x1="381.20" y1="80.50" x2="395.60" y2="80.50" stroke="#333" stroke-width="0.8" />
<path d="M385.80 61.20 L388.40 59.40 L391.00 61.20 L388.40 63.00 Z" fill="#ffffff" stroke="#9a8a2a" stroke-width="0.7"/>
<path d="M385.80 90.70 L388.40 88.90 L391.00 90.70 L388.40 92.50 Z" fill="#ffffff" stroke="#9a8a2a" stroke-width="0.7"/>
<circle cx="382.50" cy="68.60" r="1.6" fill="#ffffff" stroke="#9a8a2a" stroke-width="0.8"/>
<circle cx="393.90" cy="69.20" r="1.6" fill="#ffffff" stroke="#9a8a2a" stroke-width="0.8"/>
<circle cx="388.20" cy="71.40" r="1.6" fill="#ffffff" stroke="#9a8a2a" stroke-width="0.8"/>
<circle cx="388.20" cy="76.00" r="1.6" fill="#ffffff" stroke="#9a8a2a" stroke-width="0.8"/>
<circle cx="382.50" cy="80.50" r="1.6" fill="#ffffff" stroke="#9a8a2a" stroke-width="0.8"/>
<circle cx="393.90" cy="80.90" r="1.6" fill="#ffffff" stroke="#9a8a2a" stroke-width="0.8"/>
<circle cx="388.20" cy="82.20" r="1.6" fill="#ffffff" stroke="#9a8a2a" stroke-width="0.8"/>
<circle cx="388.20" cy="84.50" r="1.6" fill="#ffffff" stroke="#9a8a2a" stroke-width="0.8"/>
<circle cx="388.20" cy="86.80" r="1.6" fill="#ffffff" stroke="#9a8a2a" stroke-width="0.8"/>
<circle cx="388.20" cy="89.00" r="1.6" fill="#ffffff" stroke="#9a8a2a" stroke-width="0.8"/>
<circle cx="382.50" cy="90.70" r="1.6" fill="#ffffff" stroke="#9a8a2a" stroke-width="0.8"/>
<circle cx="393.90" cy="90.70" r="1.6" fill="#ffffff" stroke="#9a8a2a" stroke-width="0.8"/>
<line x1="409.50" y1="43.10" x2="409.50" y2="68.60" stroke="#333" stroke-width="0.8" />
<line x1="409.50" y1="84.50" x2="409.50" y2="99.80" stroke="#333" stroke-width="0.8" />
<rect x="402.4" y="68.6" width="14.10" height="15.90" fill="none" stroke="#333" stroke-width="0.8"/>
<line x1="402.40" y1="76.50" x2="416.50" y2="76.50" stroke="#333" stroke-width="0.8" />
<path d="M406.90 43.10 L409.50 41.30 L412.10 43.10 L409.50 44.90 Z" fill="#ffffff" stroke="#5c5f58" stroke-width="0.7"/>
<path d="M406.90 99.80 L409.50 98.00 L412.10 99.80 L409.50 101.60 Z" fill="#ffffff" stroke="#5c5f58" stroke-width="0.7"/>
<circle cx="406.90" cy="63.00" r="1.6" fill="#ffffff" stroke="#5c5f58" stroke-width="0.8"/>
<circle cx="412.00" cy="63.50" r="1.6" fill="#ffffff" stroke="#5c5f58" stroke-width="0.8"/>
<circle cx="409.70" cy="65.20" r="1.6" fill="#ffffff" stroke="#5c5f58" stroke-width="0.8"/>
<circle cx="404.10" cy="69.80" r="1.6" fill="#ffffff" stroke="#5c5f58" stroke-width="0.8"/>
<circle cx="406.90" cy="69.20" r="1.6" fill="#ffffff" stroke="#5c5f58" stroke-width="0.8"/>
<circle cx="409.70" cy="68.60" r="1.6" fill="#ffffff" stroke="#5c5f58" stroke-width="0.8"/>
<circle cx="412.50" cy="69.80" r="1.6" fill="#ffffff" stroke="#5c5f58" stroke-width="0.8"/>
<circle cx="415.20" cy="70.30" r="1.6" fill="#ffffff" stroke="#5c5f58" stroke-width="0.8"/>
<circle cx="412.50" cy="77.00" r="1.6" fill="#ffffff" stroke="#5c5f58" stroke-width="0.8"/>
<circle cx="406.90" cy="79.70" r="1.6" fill="#ffffff" stroke="#5c5f58" stroke-width="0.8"/>
<circle cx="409.70" cy="78.80" r="1.6" fill="#ffffff" stroke="#5c5f58" stroke-width="0.8"/>
<circle cx="406.90" cy="84.00" r="1.6" fill="#ffffff" stroke="#5c5f58" stroke-width="0.8"/>
<circle cx="409.70" cy="84.50" r="1.6" fill="#ffffff" stroke="#5c5f58" stroke-width="0.8"/>
<circle cx="412.50" cy="84.50" r="1.6" fill="#ffffff" stroke="#5c5f58" stroke-width="0.8"/>
<circle cx="409.70" cy="87.90" r="1.6" fill="#ffffff" stroke="#5c5f58" stroke-width="0.8"/>
<circle cx="409.70" cy="92.40" r="1.6" fill="#ffffff" stroke="#5c5f58" stroke-width="0.8"/>
<circle cx="409.70" cy="96.40" r="1.6" fill="#ffffff" stroke="#5c5f58" stroke-width="0.8"/>
<text x="345.00" y="130.25" font-size="7" text-anchor="middle" fill="#151515" textLength="7.50" lengthAdjust="spacingAndGlyphs" >HC</text>
<text x="345.00" y="140.65" font-size="7" text-anchor="middle" fill="#151515" textLength="19.00" lengthAdjust="spacingAndGlyphs" >n = 20</text>
<text x="366.50" y="130.25" font-size="7" text-anchor="middle" fill="#151515" textLength="7.50" lengthAdjust="spacingAndGlyphs" >PV</text>
<text x="366.50" y="140.65" font-size="7" text-anchor="middle" fill="#151515" textLength="19.00" lengthAdjust="spacingAndGlyphs" >n = 22</text>
<text x="388.10" y="130.25" font-size="7" text-anchor="middle" fill="#151515" textLength="7.50" lengthAdjust="spacingAndGlyphs" >ET</text>
<text x="388.10" y="140.65" font-size="7" text-anchor="middle" fill="#151515" textLength="19.00" lengthAdjust="spacingAndGlyphs" >n = 12</text>
<text x="409.50" y="130.25" font-size="7" text-anchor="middle" fill="#151515" textLength="8.50" lengthAdjust="spacingAndGlyphs" >MF</text>
<text x="409.50" y="140.65" font-size="7" text-anchor="middle" fill="#151515" textLength="19.00" lengthAdjust="spacingAndGlyphs" >n = 19</text>
<text x="12.80" y="157.45" font-size="11" text-anchor="middle" fill="#111" font-weight="bold" stroke="#111" stroke-width="0.45">D</text>
<path d="M58 195.6 L28.21 212.80 A34.4 34.4 0 0 1 58 161.2 Z" fill="#c8102e" stroke="#9e0c24" stroke-width="0.5" stroke-linejoin="round"/>
<path d="M58 195.6 L58 161.2 A34.4 34.4 0 1 1 28.21 212.80 Z" fill="#1c4c8b" stroke="#163f73" stroke-width="0.5" stroke-linejoin="round"/>
<path d="M199.2 195.4 L229.08 212.65 A34.5 34.5 0 1 1 199.2 160.9 Z" fill="#c8102e" stroke="#9e0c24" stroke-width="0.5" stroke-linejoin="round"/>
<path d="M199.2 195.4 L199.2 160.9 A34.5 34.5 0 0 1 229.08 212.65 Z" fill="#1c4c8b" stroke="#163f73" stroke-width="0.5" stroke-linejoin="round"/>
<path d="M340.8 195.7 L363.48 221.43 A34.3 34.3 0 1 1 340.8 161.39999999999998 Z" fill="#c8102e" stroke="#9e0c24" stroke-width="0.5" stroke-linejoin="round"/>
<path d="M340.8 195.7 L340.8 161.39999999999998 A34.3 34.3 0 0 1 363.48 221.43 Z" fill="#1c4c8b" stroke="#163f73" stroke-width="0.5" stroke-linejoin="round"/>
<text x="27.20" y="169.45" font-size="7" text-anchor="middle" fill="#151515" textLength="8.00" lengthAdjust="spacingAndGlyphs" >PV</text>
<text x="165.60" y="169.45" font-size="7" text-anchor="middle" fill="#151515" textLength="7.50" lengthAdjust="spacingAndGlyphs" >ET</text>
<text x="307.30" y="169.45" font-size="7" text-anchor="middle" fill="#151515" textLength="8.50" lengthAdjust="spacingAndGlyphs" >MF</text>
<rect x="98.60" y="184.70" width="6.30" height="5.80" fill="#1c4c8b" />
<rect x="98.60" y="200.30" width="6.30" height="5.80" fill="#c8102e" />
<text x="107.70" y="186.21" font-size="6.6" text-anchor="start" fill="#1a1a1a" textLength="28.60" lengthAdjust="spacingAndGlyphs" >responder</text>
<text x="107.70" y="194.01" font-size="6.6" text-anchor="start" fill="#1a1a1a" textLength="22.90" lengthAdjust="spacingAndGlyphs" >(66.7%)</text>
<text x="107.70" y="201.71" font-size="6.6" text-anchor="start" fill="#1a1a1a" textLength="40.40" lengthAdjust="spacingAndGlyphs" >non-responder</text>
<text x="107.70" y="209.61" font-size="6.6" text-anchor="start" fill="#1a1a1a" textLength="22.90" lengthAdjust="spacingAndGlyphs" >(33.3%)</text>
<rect x="238.30" y="184.70" width="6.30" height="5.80" fill="#1c4c8b" />
<rect x="238.30" y="200.30" width="6.30" height="5.80" fill="#c8102e" />
<text x="247.40" y="186.21" font-size="6.6" text-anchor="start" fill="#1a1a1a" textLength="28.60" lengthAdjust="spacingAndGlyphs" >responder</text>
<text x="247.40" y="194.01" font-size="6.6" text-anchor="start" fill="#1a1a1a" textLength="22.90" lengthAdjust="spacingAndGlyphs" >(33.3%)</text>
<text x="247.40" y="201.71" font-size="6.6" text-anchor="start" fill="#1a1a1a" textLength="40.40" lengthAdjust="spacingAndGlyphs" >non-responder</text>
<text x="247.40" y="209.61" font-size="6.6" text-anchor="start" fill="#1a1a1a" textLength="22.90" lengthAdjust="spacingAndGlyphs" >(66.7%)</text>
<rect x="380.70" y="184.70" width="6.30" height="5.80" fill="#1c4c8b" />
<rect x="380.70" y="200.30" width="6.30" height="5.80" fill="#c8102e" />
<text x="389.80" y="186.21" font-size="6.6" text-anchor="start" fill="#1a1a1a" textLength="28.60" lengthAdjust="spacingAndGlyphs" >responder</text>
<text x="389.80" y="194.01" font-size="6.6" text-anchor="start" fill="#1a1a1a" textLength="22.90" lengthAdjust="spacingAndGlyphs" >(38.5%)</text>
<text x="389.80" y="201.71" font-size="6.6" text-anchor="start" fill="#1a1a1a" textLength="40.40" lengthAdjust="spacingAndGlyphs" >non-responder</text>
<text x="389.80" y="209.61" font-size="6.6" text-anchor="start" fill="#1a1a1a" textLength="22.90" lengthAdjust="spacingAndGlyphs" >(61.5%)</text>
<text x="58.00" y="240.25" font-size="7" text-anchor="middle" fill="#151515" textLength="18.70" lengthAdjust="spacingAndGlyphs" >n = 15</text>
<text x="199.20" y="240.25" font-size="7" text-anchor="middle" fill="#151515" textLength="15.00" lengthAdjust="spacingAndGlyphs" >n = 9</text>
<text x="341.00" y="240.25" font-size="7" text-anchor="middle" fill="#151515" textLength="18.70" lengthAdjust="spacingAndGlyphs" >n = 13</text>
<text x="10.80" y="265.65" font-size="11" text-anchor="middle" fill="#111" font-weight="bold" stroke="#111" stroke-width="0.45">E</text>
<line x1="46.00" y1="357.90" x2="46.00" y2="282.50" stroke="#222" stroke-width="1.1" />
<line x1="43.20" y1="286.70" x2="46.00" y2="286.70" stroke="#222" stroke-width="0.8" />
<text x="39.80" y="288.80" font-size="6.0" text-anchor="end" fill="#1a1a1a" textLength="6.70" lengthAdjust="spacingAndGlyphs" >15</text>
<line x1="43.20" y1="295.55" x2="46.00" y2="295.55" stroke="#222" stroke-width="0.8" />
<text x="39.80" y="297.65" font-size="6.0" text-anchor="end" fill="#1a1a1a" textLength="6.70" lengthAdjust="spacingAndGlyphs" >10</text>
<line x1="43.20" y1="304.40" x2="46.00" y2="304.40" stroke="#222" stroke-width="0.8" />
<text x="39.80" y="306.50" font-size="6.0" text-anchor="end" fill="#1a1a1a" textLength="3.35" lengthAdjust="spacingAndGlyphs" >5</text>
<line x1="43.20" y1="313.25" x2="46.00" y2="313.25" stroke="#222" stroke-width="0.8" />
<text x="39.80" y="315.35" font-size="6.0" text-anchor="end" fill="#1a1a1a" textLength="3.35" lengthAdjust="spacingAndGlyphs" >0</text>
<line x1="43.20" y1="322.10" x2="46.00" y2="322.10" stroke="#222" stroke-width="0.8" />
<text x="39.80" y="324.20" font-size="6.0" text-anchor="end" fill="#1a1a1a" textLength="7.40" lengthAdjust="spacingAndGlyphs" >−5</text>
<line x1="43.20" y1="330.95" x2="46.00" y2="330.95" stroke="#222" stroke-width="0.8" />
<text x="39.80" y="333.05" font-size="6.0" text-anchor="end" fill="#1a1a1a" textLength="10.80" lengthAdjust="spacingAndGlyphs" >−10</text>
<line x1="43.20" y1="339.80" x2="46.00" y2="339.80" stroke="#222" stroke-width="0.8" />
<text x="39.80" y="341.90" font-size="6.0" text-anchor="end" fill="#1a1a1a" textLength="10.80" lengthAdjust="spacingAndGlyphs" >−15</text>
<line x1="43.20" y1="348.65" x2="46.00" y2="348.65" stroke="#222" stroke-width="0.8" />
<text x="39.80" y="350.75" font-size="6.0" text-anchor="end" fill="#1a1a1a" textLength="10.80" lengthAdjust="spacingAndGlyphs" >−20</text>
<line x1="43.20" y1="357.50" x2="46.00" y2="357.50" stroke="#222" stroke-width="0.8" />
<text x="39.80" y="359.60" font-size="6.0" text-anchor="end" fill="#1a1a1a" textLength="10.80" lengthAdjust="spacingAndGlyphs" >−25</text>
<line x1="45.50" y1="357.50" x2="146.00" y2="357.50" stroke="#222" stroke-width="1.1" />
<line x1="46.20" y1="357.40" x2="46.20" y2="360.20" stroke="#222" stroke-width="0.8" />
<text x="46.20" y="368.70" font-size="6.0" text-anchor="middle" fill="#1a1a1a" textLength="3.30" lengthAdjust="spacingAndGlyphs" >0</text>
<line x1="56.16" y1="357.40" x2="56.16" y2="360.20" stroke="#222" stroke-width="0.8" />
<text x="56.16" y="368.70" font-size="6.0" text-anchor="middle" fill="#1a1a1a" textLength="6.60" lengthAdjust="spacingAndGlyphs" >10</text>
<line x1="66.12" y1="357.40" x2="66.12" y2="360.20" stroke="#222" stroke-width="0.8" />
<text x="66.12" y="368.70" font-size="6.0" text-anchor="middle" fill="#1a1a1a" textLength="6.60" lengthAdjust="spacingAndGlyphs" >20</text>
<line x1="76.08" y1="357.40" x2="76.08" y2="360.20" stroke="#222" stroke-width="0.8" />
<text x="76.08" y="368.70" font-size="6.0" text-anchor="middle" fill="#1a1a1a" textLength="6.60" lengthAdjust="spacingAndGlyphs" >30</text>
<line x1="86.04" y1="357.40" x2="86.04" y2="360.20" stroke="#222" stroke-width="0.8" />
<text x="86.04" y="368.70" font-size="6.0" text-anchor="middle" fill="#1a1a1a" textLength="6.60" lengthAdjust="spacingAndGlyphs" >40</text>
<line x1="96.00" y1="357.40" x2="96.00" y2="360.20" stroke="#222" stroke-width="0.8" />
<text x="96.00" y="368.70" font-size="6.0" text-anchor="middle" fill="#1a1a1a" textLength="6.60" lengthAdjust="spacingAndGlyphs" >50</text>
<line x1="105.96" y1="357.40" x2="105.96" y2="360.20" stroke="#222" stroke-width="0.8" />
<text x="105.96" y="368.70" font-size="6.0" text-anchor="middle" fill="#1a1a1a" textLength="6.60" lengthAdjust="spacingAndGlyphs" >60</text>
<line x1="115.92" y1="357.40" x2="115.92" y2="360.20" stroke="#222" stroke-width="0.8" />
<text x="115.92" y="368.70" font-size="6.0" text-anchor="middle" fill="#1a1a1a" textLength="6.60" lengthAdjust="spacingAndGlyphs" >70</text>
<line x1="125.88" y1="357.40" x2="125.88" y2="360.20" stroke="#222" stroke-width="0.8" />
<text x="125.88" y="368.70" font-size="6.0" text-anchor="middle" fill="#1a1a1a" textLength="6.60" lengthAdjust="spacingAndGlyphs" >80</text>
<line x1="135.84" y1="357.40" x2="135.84" y2="360.20" stroke="#222" stroke-width="0.8" />
<text x="135.84" y="368.70" font-size="6.0" text-anchor="middle" fill="#1a1a1a" textLength="6.60" lengthAdjust="spacingAndGlyphs" >90</text>
<line x1="145.80" y1="357.40" x2="145.80" y2="360.20" stroke="#222" stroke-width="0.8" />
<text x="145.80" y="368.70" font-size="6.0" text-anchor="middle" fill="#1a1a1a" textLength="9.90" lengthAdjust="spacingAndGlyphs" >100</text>
<text x="95.00" y="380.81" font-size="8.6" text-anchor="middle" fill="#151515" textLength="78.20" lengthAdjust="spacingAndGlyphs" stroke="#111" stroke-width="0.3">VAF calculated from CFU [%]</text>
<text x="11.20" y="325.17" font-size="8.2" text-anchor="middle" fill="#151515" textLength="73.80" lengthAdjust="spacingAndGlyphs" transform="rotate(-90 11.20 322.30)" stroke="#111" stroke-width="0.3">Change in mutant VAF after</text>
<text x="22.70" y="325.17" font-size="8.2" text-anchor="middle" fill="#151515" textLength="52.60" lengthAdjust="spacingAndGlyphs" transform="rotate(-90 22.70 322.30)" stroke="#111" stroke-width="0.3">IFNa treatment [%]</text>
<line x1="46.0" y1="313.4" x2="145.5" y2="313.4" stroke="#333" stroke-width="0.75" stroke-dasharray="1.2 1.5"/>
<line x1="48.80" y1="308.80" x2="124.20" y2="328.00" stroke="#2a3a40" stroke-width="0.9" />
<circle cx="56.20" cy="290.40" r="1.75" fill="#5e1624" stroke="#9a2636" stroke-width="0.7"/>
<circle cx="59.40" cy="286.90" r="1.75" fill="#5e1624" stroke="#9a2636" stroke-width="0.7"/>
<circle cx="64.00" cy="289.70" r="1.75" fill="#5e1624" stroke="#9a2636" stroke-width="0.7"/>
<circle cx="54.30" cy="309.30" r="1.75" fill="#5e1624" stroke="#9a2636" stroke-width="0.7"/>
<circle cx="59.40" cy="310.00" r="1.75" fill="#5e1624" stroke="#9a2636" stroke-width="0.7"/>
<circle cx="61.20" cy="310.00" r="1.75" fill="#5e1624" stroke="#9a2636" stroke-width="0.7"/>
<circle cx="64.90" cy="309.50" r="1.75" fill="#5e1624" stroke="#9a2636" stroke-width="0.7"/>
<circle cx="64.50" cy="311.20" r="1.75" fill="#5e1624" stroke="#9a2636" stroke-width="0.7"/>
<circle cx="66.10" cy="305.40" r="1.75" fill="#5e1624" stroke="#9a2636" stroke-width="0.7"/>
<circle cx="72.80" cy="307.70" r="1.75" fill="#5e1624" stroke="#9a2636" stroke-width="0.7"/>
<circle cx="76.00" cy="308.20" r="1.75" fill="#5e1624" stroke="#9a2636" stroke-width="0.7"/>
<circle cx="81.50" cy="310.00" r="1.75" fill="#5e1624" stroke="#9a2636" stroke-width="0.7"/>
<circle cx="83.80" cy="304.50" r="1.75" fill="#5e1624" stroke="#9a2636" stroke-width="0.7"/>
<circle cx="88.70" cy="304.50" r="1.75" fill="#5e1624" stroke="#9a2636" stroke-width="0.7"/>
<circle cx="92.20" cy="313.50" r="1.75" fill="#5e1624" stroke="#9a2636" stroke-width="0.7"/>
<circle cx="97.20" cy="313.50" r="1.75" fill="#5e1624" stroke="#9a2636" stroke-width="0.7"/>
<circle cx="104.20" cy="304.50" r="1.75" fill="#5e1624" stroke="#9a2636" stroke-width="0.7"/>
<circle cx="48.00" cy="316.50" r="1.75" fill="#172a44" stroke="#2a4a70" stroke-width="0.6"/>
<circle cx="54.30" cy="316.20" r="1.75" fill="#172a44" stroke="#2a4a70" stroke-width="0.6"/>
<circle cx="56.60" cy="316.20" r="1.75" fill="#172a44" stroke="#2a4a70" stroke-width="0.6"/>
<circle cx="57.50" cy="318.80" r="1.75" fill="#172a44" stroke="#2a4a70" stroke-width="0.6"/>
<circle cx="61.20" cy="317.40" r="1.75" fill="#172a44" stroke="#2a4a70" stroke-width="0.6"/>
<circle cx="61.70" cy="319.20" r="1.75" fill="#172a44" stroke="#2a4a70" stroke-width="0.6"/>
<circle cx="62.60" cy="322.00" r="1.75" fill="#172a44" stroke="#2a4a70" stroke-width="0.6"/>
<circle cx="56.20" cy="325.00" r="1.75" fill="#172a44" stroke="#2a4a70" stroke-width="0.6"/>
<circle cx="56.60" cy="328.50" r="1.75" fill="#172a44" stroke="#2a4a70" stroke-width="0.6"/>
<circle cx="58.00" cy="329.00" r="1.75" fill="#172a44" stroke="#2a4a70" stroke-width="0.6"/>
<circle cx="64.00" cy="334.20" r="1.75" fill="#172a44" stroke="#2a4a70" stroke-width="0.6"/>
<circle cx="75.00" cy="318.00" r="1.75" fill="#172a44" stroke="#2a4a70" stroke-width="0.6"/>
<circle cx="75.00" cy="322.70" r="1.75" fill="#172a44" stroke="#2a4a70" stroke-width="0.6"/>
<circle cx="97.70" cy="328.00" r="1.75" fill="#172a44" stroke="#2a4a70" stroke-width="0.6"/>
<circle cx="106.00" cy="331.20" r="1.75" fill="#172a44" stroke="#2a4a70" stroke-width="0.6"/>
<circle cx="117.10" cy="329.20" r="1.75" fill="#172a44" stroke="#2a4a70" stroke-width="0.6"/>
<circle cx="118.00" cy="328.00" r="1.75" fill="#172a44" stroke="#2a4a70" stroke-width="0.6"/>
<circle cx="125.80" cy="325.50" r="1.75" fill="#172a44" stroke="#2a4a70" stroke-width="0.6"/>
<circle cx="123.50" cy="353.80" r="1.75" fill="#172a44" stroke="#2a4a70" stroke-width="0.6"/>
<circle cx="81.00" cy="284.20" r="2.5" fill="#1e3a5a" stroke="#142a44" stroke-width="0.4"/>
<circle cx="81.00" cy="291.50" r="2.5" fill="#8e1f2c" stroke="#6a1420" stroke-width="0.4"/>
<text x="85.70" y="286.31" font-size="6.6" text-anchor="start" fill="#1a1a1a" textLength="28.80" lengthAdjust="spacingAndGlyphs" >responder</text>
<text x="85.70" y="293.81" font-size="6.6" text-anchor="start" fill="#1a1a1a" textLength="40.90" lengthAdjust="spacingAndGlyphs" >non-responder</text>
<text x="128.50" y="339.72" font-size="7.2" text-anchor="middle" fill="#151515" textLength="28.50" lengthAdjust="spacingAndGlyphs" ><tspan font-style="italic">P</tspan> = .0064</text>
<text x="162.70" y="265.45" font-size="11" text-anchor="middle" fill="#111" font-weight="bold" stroke="#111" stroke-width="0.45">F</text>
<text x="221.00" y="268.49" font-size="9.4" text-anchor="middle" fill="#151515" textLength="54.30" lengthAdjust="spacingAndGlyphs" >RESPONDER</text>
<text x="321.60" y="268.49" font-size="9.4" text-anchor="middle" fill="#151515" textLength="76.80" lengthAdjust="spacingAndGlyphs" >NON-RESPONDER</text>
<line x1="198.50" y1="283.44" x2="198.50" y2="357.34" stroke="#222" stroke-width="1.0" />
<line x1="195.50" y1="357.34" x2="198.50" y2="357.34" stroke="#222" stroke-width="0.8" />
<text x="192.20" y="359.65" font-size="6.6" text-anchor="end" fill="#1a1a1a" textLength="11.54" lengthAdjust="spacingAndGlyphs" >−60</text>
<line x1="195.50" y1="343.26" x2="198.50" y2="343.26" stroke="#222" stroke-width="0.8" />
<text x="192.20" y="345.57" font-size="6.6" text-anchor="end" fill="#1a1a1a" textLength="11.54" lengthAdjust="spacingAndGlyphs" >−40</text>
<line x1="195.50" y1="329.18" x2="198.50" y2="329.18" stroke="#222" stroke-width="0.8" />
<text x="192.20" y="331.49" font-size="6.6" text-anchor="end" fill="#1a1a1a" textLength="11.54" lengthAdjust="spacingAndGlyphs" >−20</text>
<line x1="195.50" y1="315.10" x2="198.50" y2="315.10" stroke="#222" stroke-width="0.8" />
<text x="192.20" y="317.41" font-size="6.6" text-anchor="end" fill="#1a1a1a" textLength="3.62" lengthAdjust="spacingAndGlyphs" >0</text>
<line x1="195.50" y1="301.02" x2="198.50" y2="301.02" stroke="#222" stroke-width="0.8" />
<text x="192.20" y="303.33" font-size="6.6" text-anchor="end" fill="#1a1a1a" textLength="7.24" lengthAdjust="spacingAndGlyphs" >20</text>
<line x1="195.50" y1="286.94" x2="198.50" y2="286.94" stroke="#222" stroke-width="0.8" />
<text x="192.20" y="289.25" font-size="6.6" text-anchor="end" fill="#1a1a1a" textLength="7.24" lengthAdjust="spacingAndGlyphs" >40</text>
<line x1="198.50" y1="357.34" x2="244.20" y2="357.34" stroke="#222" stroke-width="1.0" />
<line x1="207.30" y1="357.34" x2="207.30" y2="359.84" stroke="#222" stroke-width="0.8" />
<line x1="220.60" y1="357.34" x2="220.60" y2="359.84" stroke="#222" stroke-width="0.8" />
<line x1="234.10" y1="357.34" x2="234.10" y2="359.84" stroke="#222" stroke-width="0.8" />
<text x="207.30" y="370.25" font-size="7.3" text-anchor="middle" fill="#151515" textLength="6.00" lengthAdjust="spacingAndGlyphs" >wt</text>
<text x="220.60" y="370.25" font-size="7.3" text-anchor="middle" fill="#151515" textLength="9.50" lengthAdjust="spacingAndGlyphs" >het</text>
<text x="234.10" y="370.25" font-size="7.3" text-anchor="middle" fill="#151515" textLength="11.50" lengthAdjust="spacingAndGlyphs" >hom</text>
<line x1="198.5" y1="315.10" x2="244.2" y2="315.10" stroke="#444" stroke-width="0.75" stroke-dasharray="1.3 1.5"/>
<text x="163.60" y="325.87" font-size="8.2" text-anchor="middle" fill="#151515" textLength="35.00" lengthAdjust="spacingAndGlyphs" transform="rotate(-90 163.60 323.00)" stroke="#111" stroke-width="0.3">% Difference</text>
<text x="174.30" y="325.27" font-size="8.2" text-anchor="middle" fill="#151515" textLength="57.00" lengthAdjust="spacingAndGlyphs" transform="rotate(-90 174.30 322.40)" stroke="#111" stroke-width="0.3">before and after IFNa</text>
<line x1="207.20" y1="277.30" x2="234.20" y2="277.30" stroke="#555" stroke-width="0.8" />
<line x1="207.20" y1="277.30" x2="207.20" y2="279.00" stroke="#555" stroke-width="0.8" />
<line x1="234.20" y1="277.30" x2="234.20" y2="279.00" stroke="#555" stroke-width="0.8" />
<text x="220.80" y="275.88" font-size="6.5" text-anchor="middle" fill="#151515" textLength="5.00" lengthAdjust="spacingAndGlyphs" >**</text>
<line x1="207.20" y1="286.00" x2="219.80" y2="286.00" stroke="#555" stroke-width="0.9" />
<line x1="207.20" y1="286.00" x2="207.20" y2="295.50" stroke="#555" stroke-width="0.9" />
<line x1="219.80" y1="286.00" x2="219.80" y2="290.50" stroke="#555" stroke-width="0.9" />
<text x="213.30" y="284.57" font-size="6.5" text-anchor="middle" fill="#151515" textLength="5.00" lengthAdjust="spacingAndGlyphs" >**</text>
<line x1="221.70" y1="286.00" x2="234.40" y2="286.00" stroke="#555" stroke-width="0.9" />
<line x1="221.70" y1="286.00" x2="221.70" y2="290.50" stroke="#555" stroke-width="0.9" />
<line x1="234.40" y1="286.00" x2="234.40" y2="297.50" stroke="#555" stroke-width="0.9" />
<text x="228.30" y="284.38" font-size="6.8" text-anchor="middle" fill="#151515" textLength="6.20" lengthAdjust="spacingAndGlyphs" >ns</text>
<path d="M207.10 295.80 L207.10 295.80 L206.40 297.50 L206.10 300.00 L205.80 302.60 L204.50 305.00 L203.30 307.00 L202.80 309.00 L202.90 311.00 L203.10 313.30 L204.10 315.00 L205.10 317.20 L205.80 319.00 L206.10 320.50 L207.10 322.00 L207.10 322.00 L208.10 320.50 L208.40 319.00 L209.10 317.20 L210.10 315.00 L211.10 313.30 L211.30 311.00 L211.40 309.00 L210.90 307.00 L209.70 305.00 L208.40 302.60 L208.10 300.00 L207.80 297.50 L207.10 295.80 Z" fill="#2e8b2e" stroke="#1a4f1a" stroke-width="0.6" stroke-linejoin="round"/>
<circle cx="207.10" cy="300.00" r="0.85" fill="#0c2c0c" stroke="#0c2c0c" stroke-width="0.2"/>
<circle cx="207.10" cy="303.00" r="0.85" fill="#0c2c0c" stroke="#0c2c0c" stroke-width="0.2"/>
<circle cx="204.60" cy="307.50" r="0.85" fill="#0c2c0c" stroke="#0c2c0c" stroke-width="0.2"/>
<circle cx="209.60" cy="307.50" r="0.85" fill="#0c2c0c" stroke="#0c2c0c" stroke-width="0.2"/>
<circle cx="206.10" cy="309.00" r="0.85" fill="#0c2c0c" stroke="#0c2c0c" stroke-width="0.2"/>
<circle cx="208.60" cy="310.50" r="0.85" fill="#0c2c0c" stroke="#0c2c0c" stroke-width="0.2"/>
<circle cx="204.60" cy="311.50" r="0.85" fill="#0c2c0c" stroke="#0c2c0c" stroke-width="0.2"/>
<circle cx="209.60" cy="312.00" r="0.85" fill="#0c2c0c" stroke="#0c2c0c" stroke-width="0.2"/>
<circle cx="207.10" cy="314.00" r="0.85" fill="#0c2c0c" stroke="#0c2c0c" stroke-width="0.2"/>
<circle cx="207.10" cy="317.00" r="0.85" fill="#0c2c0c" stroke="#0c2c0c" stroke-width="0.2"/>
<line x1="220.60" y1="287.50" x2="220.60" y2="292.00" stroke="#888" stroke-width="0.8" />
<path d="M220.60 290.90 L220.60 290.90 L219.70 293.00 L219.40 297.70 L219.00 301.00 L218.30 303.50 L218.20 305.50 L218.60 308.00 L218.80 310.40 L218.00 313.00 L217.10 316.20 L216.30 320.00 L217.10 324.00 L218.60 326.90 L219.10 329.00 L219.40 331.70 L219.60 337.00 L220.60 343.40 L220.60 343.40 L221.60 337.00 L221.80 331.70 L222.10 329.00 L222.60 326.90 L224.10 324.00 L224.90 320.00 L224.10 316.20 L223.20 313.00 L222.40 310.40 L222.60 308.00 L223.00 305.50 L222.90 303.50 L222.20 301.00 L221.80 297.70 L221.50 293.00 L220.60 290.90 Z" fill="#f0bd16" stroke="#7a5f06" stroke-width="0.6" stroke-linejoin="round"/>
<circle cx="220.60" cy="298.00" r="0.85" fill="#2e2204" stroke="#2e2204" stroke-width="0.2"/>
<circle cx="219.10" cy="305.50" r="0.85" fill="#2e2204" stroke="#2e2204" stroke-width="0.2"/>
<circle cx="222.10" cy="305.50" r="0.85" fill="#2e2204" stroke="#2e2204" stroke-width="0.2"/>
<circle cx="220.60" cy="310.00" r="0.85" fill="#2e2204" stroke="#2e2204" stroke-width="0.2"/>
<circle cx="218.60" cy="315.50" r="0.85" fill="#2e2204" stroke="#2e2204" stroke-width="0.2"/>
<circle cx="222.10" cy="316.50" r="0.85" fill="#2e2204" stroke="#2e2204" stroke-width="0.2"/>
<circle cx="218.10" cy="319.00" r="0.85" fill="#2e2204" stroke="#2e2204" stroke-width="0.2"/>
<circle cx="223.10" cy="320.00" r="0.85" fill="#2e2204" stroke="#2e2204" stroke-width="0.2"/>
<circle cx="220.60" cy="321.00" r="0.85" fill="#2e2204" stroke="#2e2204" stroke-width="0.2"/>
<circle cx="219.10" cy="323.50" r="0.85" fill="#2e2204" stroke="#2e2204" stroke-width="0.2"/>
<circle cx="222.60" cy="324.00" r="0.85" fill="#2e2204" stroke="#2e2204" stroke-width="0.2"/>
<circle cx="220.60" cy="327.00" r="0.85" fill="#2e2204" stroke="#2e2204" stroke-width="0.2"/>
<circle cx="220.60" cy="331.00" r="0.85" fill="#2e2204" stroke="#2e2204" stroke-width="0.2"/>
<circle cx="220.60" cy="336.00" r="0.85" fill="#2e2204" stroke="#2e2204" stroke-width="0.2"/>
<circle cx="220.60" cy="340.00" r="0.85" fill="#2e2204" stroke="#2e2204" stroke-width="0.2"/>
<path d="M234.00 297.70 L234.00 297.70 L233.10 300.00 L233.00 303.50 L232.50 307.40 L232.00 311.00 L231.40 314.20 L230.50 317.00 L230.00 319.10 L229.70 321.50 L230.20 324.00 L231.00 326.90 L231.60 329.00 L232.20 331.70 L232.70 334.00 L233.00 336.60 L234.00 340.50 L234.00 340.50 L235.00 336.60 L235.30 334.00 L235.80 331.70 L236.40 329.00 L237.00 326.90 L237.80 324.00 L238.30 321.50 L238.00 319.10 L237.50 317.00 L236.60 314.20 L236.00 311.00 L235.50 307.40 L235.00 303.50 L234.90 300.00 L234.00 297.70 Z" fill="#9b94d2" stroke="#4f4790" stroke-width="0.6" stroke-linejoin="round"/>
<circle cx="234.00" cy="306.00" r="0.85" fill="#221d55" stroke="#221d55" stroke-width="0.2"/>
<circle cx="234.00" cy="312.00" r="0.85" fill="#221d55" stroke="#221d55" stroke-width="0.2"/>
<circle cx="232.50" cy="318.00" r="0.85" fill="#221d55" stroke="#221d55" stroke-width="0.2"/>
<circle cx="235.50" cy="318.50" r="0.85" fill="#221d55" stroke="#221d55" stroke-width="0.2"/>
<circle cx="231.50" cy="321.00" r="0.85" fill="#221d55" stroke="#221d55" stroke-width="0.2"/>
<circle cx="236.50" cy="321.50" r="0.85" fill="#221d55" stroke="#221d55" stroke-width="0.2"/>
<circle cx="234.00" cy="324.00" r="0.85" fill="#221d55" stroke="#221d55" stroke-width="0.2"/>
<circle cx="232.00" cy="327.00" r="0.85" fill="#221d55" stroke="#221d55" stroke-width="0.2"/>
<circle cx="236.00" cy="327.00" r="0.85" fill="#221d55" stroke="#221d55" stroke-width="0.2"/>
<circle cx="234.00" cy="333.00" r="0.85" fill="#221d55" stroke="#221d55" stroke-width="0.2"/>
<line x1="298.40" y1="283.48" x2="298.40" y2="357.42" stroke="#222" stroke-width="1.0" />
<line x1="295.40" y1="357.42" x2="298.40" y2="357.42" stroke="#222" stroke-width="0.8" />
<text x="292.10" y="359.73" font-size="6.6" text-anchor="end" fill="#1a1a1a" textLength="11.54" lengthAdjust="spacingAndGlyphs" >−60</text>
<line x1="295.40" y1="345.68" x2="298.40" y2="345.68" stroke="#222" stroke-width="0.8" />
<text x="292.10" y="347.99" font-size="6.6" text-anchor="end" fill="#1a1a1a" textLength="11.54" lengthAdjust="spacingAndGlyphs" >−40</text>
<line x1="295.40" y1="333.94" x2="298.40" y2="333.94" stroke="#222" stroke-width="0.8" />
<text x="292.10" y="336.25" font-size="6.6" text-anchor="end" fill="#1a1a1a" textLength="11.54" lengthAdjust="spacingAndGlyphs" >−20</text>
<line x1="295.40" y1="322.20" x2="298.40" y2="322.20" stroke="#222" stroke-width="0.8" />
<text x="292.10" y="324.51" font-size="6.6" text-anchor="end" fill="#1a1a1a" textLength="3.62" lengthAdjust="spacingAndGlyphs" >0</text>
<line x1="295.40" y1="310.46" x2="298.40" y2="310.46" stroke="#222" stroke-width="0.8" />
<text x="292.10" y="312.77" font-size="6.6" text-anchor="end" fill="#1a1a1a" textLength="7.24" lengthAdjust="spacingAndGlyphs" >20</text>
<line x1="295.40" y1="298.72" x2="298.40" y2="298.72" stroke="#222" stroke-width="0.8" />
<text x="292.10" y="301.03" font-size="6.6" text-anchor="end" fill="#1a1a1a" textLength="7.24" lengthAdjust="spacingAndGlyphs" >40</text>
<line x1="295.40" y1="286.98" x2="298.40" y2="286.98" stroke="#222" stroke-width="0.8" />
<text x="292.10" y="289.29" font-size="6.6" text-anchor="end" fill="#1a1a1a" textLength="7.24" lengthAdjust="spacingAndGlyphs" >60</text>
<line x1="298.40" y1="357.42" x2="344.50" y2="357.42" stroke="#222" stroke-width="1.0" />
<line x1="308.30" y1="357.42" x2="308.30" y2="359.92" stroke="#222" stroke-width="0.8" />
<line x1="321.80" y1="357.42" x2="321.80" y2="359.92" stroke="#222" stroke-width="0.8" />
<line x1="335.60" y1="357.42" x2="335.60" y2="359.92" stroke="#222" stroke-width="0.8" />
<text x="308.30" y="370.25" font-size="7.3" text-anchor="middle" fill="#151515" textLength="6.00" lengthAdjust="spacingAndGlyphs" >wt</text>
<text x="321.80" y="370.25" font-size="7.3" text-anchor="middle" fill="#151515" textLength="9.50" lengthAdjust="spacingAndGlyphs" >het</text>
<text x="335.60" y="370.25" font-size="7.3" text-anchor="middle" fill="#151515" textLength="11.50" lengthAdjust="spacingAndGlyphs" >hom</text>
<line x1="298.4" y1="322.20" x2="344.5" y2="322.20" stroke="#444" stroke-width="0.75" stroke-dasharray="1.3 1.5"/>
<text x="263.90" y="325.57" font-size="8.2" text-anchor="middle" fill="#151515" textLength="35.50" lengthAdjust="spacingAndGlyphs" transform="rotate(-90 263.90 322.70)" stroke="#111" stroke-width="0.3">% Difference</text>
<text x="274.30" y="325.27" font-size="8.2" text-anchor="middle" fill="#151515" textLength="57.00" lengthAdjust="spacingAndGlyphs" transform="rotate(-90 274.30 322.40)" stroke="#111" stroke-width="0.3">before and after IFNa</text>
<line x1="307.40" y1="278.00" x2="335.60" y2="278.00" stroke="#555" stroke-width="0.8" />
<line x1="307.40" y1="278.00" x2="307.40" y2="280.00" stroke="#555" stroke-width="0.8" />
<line x1="335.60" y1="278.00" x2="335.60" y2="280.00" stroke="#555" stroke-width="0.8" />
<text x="321.50" y="276.67" font-size="6.5" text-anchor="middle" fill="#151515" textLength="5.00" lengthAdjust="spacingAndGlyphs" >**</text>
<line x1="307.60" y1="287.20" x2="320.50" y2="287.20" stroke="#555" stroke-width="0.8" />
<line x1="307.60" y1="287.20" x2="307.60" y2="308.70" stroke="#555" stroke-width="0.8" />
<line x1="320.50" y1="287.20" x2="320.50" y2="294.00" stroke="#555" stroke-width="0.8" />
<text x="314.00" y="286.27" font-size="6.5" text-anchor="middle" fill="#151515" textLength="7.50" lengthAdjust="spacingAndGlyphs" >***</text>
<line x1="322.80" y1="287.20" x2="335.60" y2="287.20" stroke="#555" stroke-width="0.8" />
<line x1="322.80" y1="287.20" x2="322.80" y2="294.00" stroke="#555" stroke-width="0.8" />
<line x1="335.60" y1="287.20" x2="335.60" y2="308.70" stroke="#555" stroke-width="0.8" />
<text x="329.20" y="286.18" font-size="6.8" text-anchor="middle" fill="#151515" textLength="6.20" lengthAdjust="spacingAndGlyphs" >ns</text>
<line x1="308.30" y1="313.40" x2="308.30" y2="346.40" stroke="#888" stroke-width="0.8" />
<path d="M308.30 317.50 L308.30 317.50 L307.30 318.50 L305.70 320.50 L304.10 323.10 L304.30 325.00 L305.30 326.50 L306.30 328.00 L307.10 329.50 L307.50 330.90 L307.50 333.80 L306.50 335.50 L305.80 337.20 L306.70 339.00 L307.30 340.60 L308.30 342.00 L308.30 342.00 L309.30 340.60 L309.90 339.00 L310.80 337.20 L310.10 335.50 L309.10 333.80 L309.10 330.90 L309.50 329.50 L310.30 328.00 L311.30 326.50 L312.30 325.00 L312.50 323.10 L310.90 320.50 L309.30 318.50 L308.30 317.50 Z" fill="#2e8b2e" stroke="#1a4f1a" stroke-width="0.6" stroke-linejoin="round"/>
<circle cx="306.30" cy="322.00" r="0.85" fill="#0c2c0c" stroke="#0c2c0c" stroke-width="0.2"/>
<circle cx="308.30" cy="321.00" r="0.85" fill="#0c2c0c" stroke="#0c2c0c" stroke-width="0.2"/>
<circle cx="310.30" cy="322.50" r="0.85" fill="#0c2c0c" stroke="#0c2c0c" stroke-width="0.2"/>
<circle cx="306.80" cy="325.00" r="0.85" fill="#0c2c0c" stroke="#0c2c0c" stroke-width="0.2"/>
<circle cx="309.80" cy="325.50" r="0.85" fill="#0c2c0c" stroke="#0c2c0c" stroke-width="0.2"/>
<circle cx="308.30" cy="327.00" r="0.85" fill="#0c2c0c" stroke="#0c2c0c" stroke-width="0.2"/>
<circle cx="307.30" cy="337.00" r="0.85" fill="#0c2c0c" stroke="#0c2c0c" stroke-width="0.2"/>
<circle cx="309.30" cy="337.50" r="0.85" fill="#0c2c0c" stroke="#0c2c0c" stroke-width="0.2"/>
<line x1="322.20" y1="297.80" x2="322.20" y2="335.70" stroke="#888" stroke-width="0.8" />
<path d="M322.20 303.70 L322.20 303.70 L320.70 304.80 L319.70 306.60 L320.40 308.50 L321.20 310.50 L320.90 312.50 L320.20 315.30 L318.90 317.50 L317.70 319.70 L318.40 321.50 L319.20 323.10 L320.00 324.50 L320.70 326.00 L321.20 327.50 L322.20 329.20 L322.20 329.20 L323.20 327.50 L323.70 326.00 L324.40 324.50 L325.20 323.10 L326.00 321.50 L326.70 319.70 L325.50 317.50 L324.20 315.30 L323.50 312.50 L323.20 310.50 L324.00 308.50 L324.70 306.60 L323.70 304.80 L322.20 303.70 Z" fill="#e9b31c" stroke="#6f5406" stroke-width="0.6" stroke-linejoin="round"/>
<circle cx="321.00" cy="306.50" r="0.85" fill="#2e2204" stroke="#2e2204" stroke-width="0.2"/>
<circle cx="323.40" cy="306.50" r="0.85" fill="#2e2204" stroke="#2e2204" stroke-width="0.2"/>
<circle cx="322.20" cy="313.00" r="0.85" fill="#2e2204" stroke="#2e2204" stroke-width="0.2"/>
<circle cx="322.20" cy="317.00" r="0.85" fill="#2e2204" stroke="#2e2204" stroke-width="0.2"/>
<circle cx="319.70" cy="319.70" r="0.85" fill="#2e2204" stroke="#2e2204" stroke-width="0.2"/>
<circle cx="324.70" cy="319.70" r="0.85" fill="#2e2204" stroke="#2e2204" stroke-width="0.2"/>
<circle cx="321.20" cy="321.50" r="0.85" fill="#2e2204" stroke="#2e2204" stroke-width="0.2"/>
<circle cx="323.20" cy="322.00" r="0.85" fill="#2e2204" stroke="#2e2204" stroke-width="0.2"/>
<circle cx="322.20" cy="327.00" r="0.85" fill="#2e2204" stroke="#2e2204" stroke-width="0.2"/>
<line x1="335.80" y1="308.50" x2="335.80" y2="313.40" stroke="#888" stroke-width="0.8" />
<path d="M335.80 313.40 L335.80 313.40 L334.20 315.00 L331.80 317.50 L332.80 318.80 L333.80 320.20 L332.80 321.20 L331.80 322.10 L333.30 323.50 L334.80 325.50 L335.80 326.50 L335.80 326.50 L336.80 325.50 L338.30 323.50 L339.80 322.10 L338.80 321.20 L337.80 320.20 L338.80 318.80 L339.80 317.50 L337.40 315.00 L335.80 313.40 Z" fill="#a59ed6" stroke="#4f4790" stroke-width="0.6" stroke-linejoin="round"/>
<circle cx="333.80" cy="317.50" r="0.85" fill="#221d55" stroke="#221d55" stroke-width="0.2"/>
<circle cx="337.80" cy="317.50" r="0.85" fill="#221d55" stroke="#221d55" stroke-width="0.2"/>
<circle cx="335.80" cy="316.00" r="0.85" fill="#221d55" stroke="#221d55" stroke-width="0.2"/>
<circle cx="333.80" cy="322.10" r="0.85" fill="#221d55" stroke="#221d55" stroke-width="0.2"/>
<circle cx="337.80" cy="322.10" r="0.85" fill="#221d55" stroke="#221d55" stroke-width="0.2"/>
<circle cx="335.80" cy="322.10" r="0.85" fill="#221d55" stroke="#221d55" stroke-width="0.2"/>
<text x="378.70" y="266.05" font-size="11" text-anchor="middle" fill="#111" font-weight="bold" stroke="#111" stroke-width="0.45">G</text>
<line x1="410.60" y1="277.50" x2="410.60" y2="357.40" stroke="#222" stroke-width="1.0" />
<line x1="407.60" y1="357.30" x2="410.60" y2="357.30" stroke="#222" stroke-width="0.8" />
<text x="403.90" y="359.40" font-size="6.0" text-anchor="end" fill="#1a1a1a" textLength="3.28" lengthAdjust="spacingAndGlyphs" >0</text>
<line x1="407.60" y1="344.46" x2="410.60" y2="344.46" stroke="#222" stroke-width="0.8" />
<text x="403.90" y="346.56" font-size="6.0" text-anchor="end" fill="#1a1a1a" textLength="6.56" lengthAdjust="spacingAndGlyphs" >20</text>
<line x1="407.60" y1="331.62" x2="410.60" y2="331.62" stroke="#222" stroke-width="0.8" />
<text x="403.90" y="333.72" font-size="6.0" text-anchor="end" fill="#1a1a1a" textLength="6.56" lengthAdjust="spacingAndGlyphs" >40</text>
<line x1="407.60" y1="318.78" x2="410.60" y2="318.78" stroke="#222" stroke-width="0.8" />
<text x="403.90" y="320.88" font-size="6.0" text-anchor="end" fill="#1a1a1a" textLength="6.56" lengthAdjust="spacingAndGlyphs" >60</text>
<line x1="407.60" y1="305.94" x2="410.60" y2="305.94" stroke="#222" stroke-width="0.8" />
<text x="403.90" y="308.04" font-size="6.0" text-anchor="end" fill="#1a1a1a" textLength="6.56" lengthAdjust="spacingAndGlyphs" >80</text>
<line x1="407.60" y1="293.10" x2="410.60" y2="293.10" stroke="#222" stroke-width="0.8" />
<text x="403.90" y="295.20" font-size="6.0" text-anchor="end" fill="#1a1a1a" textLength="9.84" lengthAdjust="spacingAndGlyphs" >100</text>
<line x1="407.60" y1="280.26" x2="410.60" y2="280.26" stroke="#222" stroke-width="0.8" />
<text x="403.90" y="282.36" font-size="6.0" text-anchor="end" fill="#1a1a1a" textLength="9.84" lengthAdjust="spacingAndGlyphs" >120</text>
<line x1="410.00" y1="357.30" x2="509.90" y2="357.30" stroke="#222" stroke-width="1.0" />
<line x1="411.20" y1="357.30" x2="411.20" y2="360.00" stroke="#222" stroke-width="0.8" />
<text x="411.20" y="368.81" font-size="6.3" text-anchor="middle" fill="#1a1a1a" textLength="3.50" lengthAdjust="spacingAndGlyphs" >0</text>
<line x1="425.00" y1="357.30" x2="425.00" y2="360.00" stroke="#222" stroke-width="0.8" />
<text x="425.00" y="368.81" font-size="6.3" text-anchor="middle" fill="#1a1a1a" textLength="7.00" lengthAdjust="spacingAndGlyphs" >20</text>
<line x1="438.80" y1="357.30" x2="438.80" y2="360.00" stroke="#222" stroke-width="0.8" />
<text x="438.80" y="368.81" font-size="6.3" text-anchor="middle" fill="#1a1a1a" textLength="7.00" lengthAdjust="spacingAndGlyphs" >40</text>
<line x1="452.60" y1="357.30" x2="452.60" y2="360.00" stroke="#222" stroke-width="0.8" />
<text x="452.60" y="368.81" font-size="6.3" text-anchor="middle" fill="#1a1a1a" textLength="7.00" lengthAdjust="spacingAndGlyphs" >60</text>
<line x1="466.40" y1="357.30" x2="466.40" y2="360.00" stroke="#222" stroke-width="0.8" />
<text x="466.40" y="368.81" font-size="6.3" text-anchor="middle" fill="#1a1a1a" textLength="7.00" lengthAdjust="spacingAndGlyphs" >80</text>
<line x1="480.20" y1="357.30" x2="480.20" y2="360.00" stroke="#222" stroke-width="0.8" />
<text x="480.20" y="368.81" font-size="6.3" text-anchor="middle" fill="#1a1a1a" textLength="10.50" lengthAdjust="spacingAndGlyphs" >100</text>
<line x1="494.00" y1="357.30" x2="494.00" y2="360.00" stroke="#222" stroke-width="0.8" />
<text x="494.00" y="368.81" font-size="6.3" text-anchor="middle" fill="#1a1a1a" textLength="10.50" lengthAdjust="spacingAndGlyphs" >120</text>
<line x1="507.80" y1="357.30" x2="507.80" y2="360.00" stroke="#222" stroke-width="0.8" />
<text x="507.80" y="368.81" font-size="6.3" text-anchor="middle" fill="#1a1a1a" textLength="10.50" lengthAdjust="spacingAndGlyphs" >140</text>
<text x="430.20" y="290.92" font-size="7.2" text-anchor="middle" fill="#151515" textLength="28.50" lengthAdjust="spacingAndGlyphs" ><tspan font-style="italic">P</tspan> = .0106</text>
<line x1="439.50" y1="308.60" x2="496.90" y2="284.40" stroke="#333" stroke-width="0.9" />
<circle cx="438.90" cy="308.00" r="1.8" fill="#172a44" stroke="#2a4a70" stroke-width="0.6"/>
<circle cx="452.40" cy="306.60" r="1.8" fill="#172a44" stroke="#2a4a70" stroke-width="0.6"/>
<circle cx="479.80" cy="287.80" r="1.8" fill="#5e1624" stroke="#9a2636" stroke-width="0.7"/>
<circle cx="496.70" cy="285.20" r="1.8" fill="#5e1624" stroke="#9a2636" stroke-width="0.7"/>
<text x="460.70" y="380.81" font-size="8.6" text-anchor="middle" fill="#151515" textLength="52.00" lengthAdjust="spacingAndGlyphs" stroke="#111" stroke-width="0.3">Relative <tspan font-style="italic">in vivo</tspan>  VAF</text>
<text x="460.40" y="392.01" font-size="8.6" text-anchor="middle" fill="#151515" textLength="66.20" lengthAdjust="spacingAndGlyphs" stroke="#111" stroke-width="0.3">after IFNa treatment  (%)</text>
<text x="375.50" y="322.77" font-size="8.2" text-anchor="middle" fill="#151515" textLength="62.00" lengthAdjust="spacingAndGlyphs" transform="rotate(-90 375.50 319.90)" stroke="#111" stroke-width="0.3">Relative clonogenic VAF</text>
<text x="386.40" y="321.27" font-size="8.2" text-anchor="middle" fill="#151515" textLength="66.30" lengthAdjust="spacingAndGlyphs" transform="rotate(-90 386.40 318.40)" stroke="#111" stroke-width="0.3">after IFNa treatment (%)</text>
<text x="10.60" y="415.25" font-size="11" text-anchor="middle" fill="#111" font-weight="bold" stroke="#111" stroke-width="0.45">H</text>
<defs><linearGradient id="ck" x1="0" x2="1" y1="0" y2="0"><stop offset="0" stop-color="#3a49a6"/><stop offset="0.27" stop-color="#3d4aa8"/><stop offset="0.33" stop-color="#8f8fd0"/><stop offset="0.38" stop-color="#ffffff"/><stop offset="0.42" stop-color="#fff4f0"/><stop offset="0.6" stop-color="#f7b09c"/><stop offset="0.78" stop-color="#f05a44"/><stop offset="0.9" stop-color="#e61b1d"/><stop offset="1" stop-color="#e20814"/></linearGradient></defs>
<rect x="20.10" y="426.10" width="42.50" height="18.20" fill="url(#ck)" />
<text x="41.60" y="421.85" font-size="7" text-anchor="middle" fill="#151515" textLength="24.60" lengthAdjust="spacingAndGlyphs" >color key</text>
<line x1="23.80" y1="444.30" x2="23.80" y2="447.80" stroke="#222" stroke-width="0.9" />
<text x="23.80" y="457.25" font-size="7" text-anchor="middle" fill="#151515" textLength="7.00" lengthAdjust="spacingAndGlyphs" >−2</text>
<line x1="32.20" y1="444.30" x2="32.20" y2="447.80" stroke="#222" stroke-width="0.9" />
<text x="32.20" y="457.25" font-size="7" text-anchor="middle" fill="#151515" textLength="7.00" lengthAdjust="spacingAndGlyphs" >−1</text>
<line x1="41.20" y1="444.30" x2="41.20" y2="447.80" stroke="#222" stroke-width="0.9" />
<text x="41.20" y="457.25" font-size="7" text-anchor="middle" fill="#151515" textLength="3.50" lengthAdjust="spacingAndGlyphs" >0</text>
<line x1="49.90" y1="444.30" x2="49.90" y2="447.80" stroke="#222" stroke-width="0.9" />
<text x="49.90" y="457.25" font-size="7" text-anchor="middle" fill="#151515" textLength="3.50" lengthAdjust="spacingAndGlyphs" >1</text>
<line x1="58.40" y1="444.30" x2="58.40" y2="447.80" stroke="#222" stroke-width="0.9" />
<text x="58.40" y="457.25" font-size="7" text-anchor="middle" fill="#151515" textLength="3.50" lengthAdjust="spacingAndGlyphs" >2</text>
<rect x="70.05" y="486.26" width="15.76" height="2.70" fill="#c5bfe0" />
<rect x="70.05" y="488.87" width="15.76" height="2.70" fill="#ebe7f4" />
<rect x="70.05" y="491.47" width="15.76" height="2.70" fill="#ebe7f4" />
<rect x="70.05" y="494.07" width="15.76" height="2.70" fill="#ebe7f4" />
<rect x="70.05" y="496.67" width="15.76" height="2.70" fill="#8d86c4" />
<rect x="70.05" y="499.28" width="15.76" height="2.70" fill="#ebe7f4" />
<rect x="70.05" y="501.88" width="15.76" height="2.70" fill="#ebe7f4" />
<rect x="70.05" y="504.48" width="15.76" height="2.70" fill="#3c48a0" />
<rect x="70.05" y="507.08" width="15.76" height="2.70" fill="#3c48a0" />
<rect x="70.05" y="522.70" width="15.76" height="2.70" fill="#8d86c4" />
<rect x="70.05" y="535.71" width="15.76" height="2.70" fill="#c5bfe0" />
<rect x="70.05" y="538.32" width="15.76" height="2.70" fill="#ebe7f4" />
<rect x="70.05" y="540.92" width="15.76" height="2.70" fill="#ebe7f4" />
<rect x="70.05" y="543.52" width="15.76" height="2.70" fill="#8d86c4" />
<rect x="70.05" y="548.73" width="15.76" height="2.70" fill="#8d86c4" />
<rect x="70.05" y="551.33" width="15.76" height="2.70" fill="#8d86c4" />
<rect x="70.05" y="553.93" width="15.76" height="2.70" fill="#fcf0ee" />
<rect x="70.05" y="556.53" width="15.76" height="2.70" fill="#fcf0ee" />
<rect x="70.05" y="561.74" width="15.76" height="2.70" fill="#ebe7f4" />
<rect x="70.05" y="564.34" width="15.76" height="2.70" fill="#c5bfe0" />
<rect x="70.05" y="569.55" width="15.76" height="2.70" fill="#fcf0ee" />
<rect x="70.05" y="572.15" width="15.76" height="2.70" fill="#8d86c4" />
<rect x="85.71" y="486.26" width="15.76" height="2.70" fill="#fcf0ee" />
<rect x="85.71" y="488.87" width="15.76" height="2.70" fill="#fcf0ee" />
<rect x="85.71" y="501.88" width="15.76" height="2.70" fill="#c5bfe0" />
<rect x="85.71" y="504.48" width="15.76" height="2.70" fill="#fcf0ee" />
<rect x="85.71" y="507.08" width="15.76" height="2.70" fill="#fcf0ee" />
<rect x="85.71" y="512.29" width="15.76" height="2.70" fill="#fcf0ee" />
<rect x="85.71" y="514.89" width="15.76" height="2.70" fill="#fcf0ee" />
<rect x="85.71" y="517.50" width="15.76" height="2.70" fill="#fcf0ee" />
<rect x="85.71" y="525.30" width="15.76" height="2.70" fill="#fcf0ee" />
<rect x="85.71" y="527.91" width="15.76" height="2.70" fill="#fcf0ee" />
<rect x="85.71" y="535.71" width="15.76" height="2.70" fill="#c5bfe0" />
<rect x="85.71" y="538.32" width="15.76" height="2.70" fill="#ebe7f4" />
<rect x="85.71" y="540.92" width="15.76" height="2.70" fill="#ebe7f4" />
<rect x="85.71" y="548.73" width="15.76" height="2.70" fill="#fcf0ee" />
<rect x="85.71" y="551.33" width="15.76" height="2.70" fill="#fcf0ee" />
<rect x="85.71" y="553.93" width="15.76" height="2.70" fill="#f9d9d0" />
<rect x="85.71" y="556.53" width="15.76" height="2.70" fill="#f9d9d0" />
<rect x="85.71" y="559.13" width="15.76" height="2.70" fill="#f5b3a2" />
<rect x="85.71" y="561.74" width="15.76" height="2.70" fill="#f9d9d0" />
<rect x="85.71" y="564.34" width="15.76" height="2.70" fill="#c5bfe0" />
<rect x="85.71" y="566.94" width="15.76" height="2.70" fill="#fcf0ee" />
<rect x="85.71" y="569.55" width="15.76" height="2.70" fill="#f5b3a2" />
<rect x="85.71" y="572.15" width="15.76" height="2.70" fill="#f9d9d0" />
<rect x="101.37" y="486.26" width="15.76" height="2.70" fill="#f9d9d0" />
<rect x="101.37" y="488.87" width="15.76" height="2.70" fill="#f9d9d0" />
<rect x="101.37" y="491.47" width="15.76" height="2.70" fill="#c5bfe0" />
<rect x="101.37" y="504.48" width="15.76" height="2.70" fill="#fcf0ee" />
<rect x="101.37" y="507.08" width="15.76" height="2.70" fill="#f9d9d0" />
<rect x="101.37" y="512.29" width="15.76" height="2.70" fill="#fcf0ee" />
<rect x="101.37" y="514.89" width="15.76" height="2.70" fill="#f5b3a2" />
<rect x="101.37" y="517.50" width="15.76" height="2.70" fill="#f9d9d0" />
<rect x="101.37" y="520.10" width="15.76" height="2.70" fill="#fcf0ee" />
<rect x="101.37" y="522.70" width="15.76" height="2.70" fill="#fcf0ee" />
<rect x="101.37" y="527.91" width="15.76" height="2.70" fill="#f08a70" />
<rect x="101.37" y="530.51" width="15.76" height="2.70" fill="#f08a70" />
<rect x="101.37" y="533.11" width="15.76" height="2.70" fill="#e9542f" />
<rect x="101.37" y="535.71" width="15.76" height="2.70" fill="#f5b3a2" />
<rect x="101.37" y="548.73" width="15.76" height="2.70" fill="#e9542f" />
<rect x="101.37" y="551.33" width="15.76" height="2.70" fill="#e9542f" />
<rect x="101.37" y="553.93" width="15.76" height="2.70" fill="#e5131a" />
<rect x="101.37" y="556.53" width="15.76" height="2.70" fill="#e5131a" />
<rect x="101.37" y="559.13" width="15.76" height="2.70" fill="#f08a70" />
<rect x="101.37" y="561.74" width="15.76" height="2.70" fill="#f08a70" />
<rect x="101.37" y="564.34" width="15.76" height="2.70" fill="#c5bfe0" />
<rect x="101.37" y="566.94" width="15.76" height="2.70" fill="#f9d9d0" />
<rect x="101.37" y="569.55" width="15.76" height="2.70" fill="#e9542f" />
<rect x="101.37" y="572.15" width="15.76" height="2.70" fill="#e9542f" />
<rect x="117.03" y="486.26" width="15.76" height="2.70" fill="#fcf0ee" />
<rect x="117.03" y="488.87" width="15.76" height="2.70" fill="#fcf0ee" />
<rect x="117.03" y="491.47" width="15.76" height="2.70" fill="#e9542f" />
<rect x="117.03" y="494.07" width="15.76" height="2.70" fill="#f9d9d0" />
<rect x="117.03" y="496.67" width="15.76" height="2.70" fill="#fcf0ee" />
<rect x="117.03" y="499.28" width="15.76" height="2.70" fill="#f9d9d0" />
<rect x="117.03" y="501.88" width="15.76" height="2.70" fill="#f9d9d0" />
<rect x="117.03" y="504.48" width="15.76" height="2.70" fill="#f5b3a2" />
<rect x="117.03" y="507.08" width="15.76" height="2.70" fill="#f5b3a2" />
<rect x="117.03" y="512.29" width="15.76" height="2.70" fill="#fcf0ee" />
<rect x="117.03" y="514.89" width="15.76" height="2.70" fill="#fcf0ee" />
<rect x="117.03" y="517.50" width="15.76" height="2.70" fill="#fcf0ee" />
<rect x="117.03" y="520.10" width="15.76" height="2.70" fill="#fcf0ee" />
<rect x="117.03" y="527.91" width="15.76" height="2.70" fill="#f9d9d0" />
<rect x="117.03" y="530.51" width="15.76" height="2.70" fill="#f9d9d0" />
<rect x="117.03" y="533.11" width="15.76" height="2.70" fill="#f9d9d0" />
<rect x="117.03" y="535.71" width="15.76" height="2.70" fill="#fcf0ee" />
<rect x="117.03" y="540.92" width="15.76" height="2.70" fill="#ebe7f4" />
<rect x="117.03" y="543.52" width="15.76" height="2.70" fill="#ebe7f4" />
<rect x="117.03" y="548.73" width="15.76" height="2.70" fill="#f08a70" />
<rect x="117.03" y="551.33" width="15.76" height="2.70" fill="#f5b3a2" />
<rect x="117.03" y="559.13" width="15.76" height="2.70" fill="#f9d9d0" />
<rect x="117.03" y="561.74" width="15.76" height="2.70" fill="#f9d9d0" />
<rect x="117.03" y="564.34" width="15.76" height="2.70" fill="#c5bfe0" />
<rect x="117.03" y="566.94" width="15.76" height="2.70" fill="#e5131a" />
<rect x="117.03" y="569.55" width="15.76" height="2.70" fill="#fcf0ee" />
<rect x="117.03" y="572.15" width="15.76" height="2.70" fill="#f9d9d0" />
<rect x="132.69" y="470.65" width="15.76" height="2.70" fill="#f5b3a2" />
<rect x="132.69" y="473.25" width="15.76" height="2.70" fill="#f5b3a2" />
<rect x="132.69" y="475.85" width="15.76" height="2.70" fill="#f08a70" />
<rect x="132.69" y="478.46" width="15.76" height="2.70" fill="#fcf0ee" />
<rect x="132.69" y="481.06" width="15.76" height="2.70" fill="#fcf0ee" />
<rect x="132.69" y="483.66" width="15.76" height="2.70" fill="#fcf0ee" />
<rect x="132.69" y="486.26" width="15.76" height="2.70" fill="#f5b3a2" />
<rect x="132.69" y="488.87" width="15.76" height="2.70" fill="#f9d9d0" />
<rect x="132.69" y="491.47" width="15.76" height="2.70" fill="#f9d9d0" />
<rect x="132.69" y="494.07" width="15.76" height="2.70" fill="#e5131a" />
<rect x="132.69" y="496.67" width="15.76" height="2.70" fill="#e5131a" />
<rect x="132.69" y="499.28" width="15.76" height="2.70" fill="#e9542f" />
<rect x="132.69" y="501.88" width="15.76" height="2.70" fill="#e5131a" />
<rect x="132.69" y="504.48" width="15.76" height="2.70" fill="#e9542f" />
<rect x="132.69" y="507.08" width="15.76" height="2.70" fill="#e9542f" />
<rect x="132.69" y="509.69" width="15.76" height="2.70" fill="#e5131a" />
<rect x="132.69" y="512.29" width="15.76" height="2.70" fill="#e5131a" />
<rect x="132.69" y="514.89" width="15.76" height="2.70" fill="#e5131a" />
<rect x="132.69" y="517.50" width="15.76" height="2.70" fill="#e5131a" />
<rect x="132.69" y="520.10" width="15.76" height="2.70" fill="#e5131a" />
<rect x="132.69" y="522.70" width="15.76" height="2.70" fill="#e5131a" />
<rect x="132.69" y="525.30" width="15.76" height="2.70" fill="#e5131a" />
<rect x="132.69" y="527.91" width="15.76" height="2.70" fill="#e5131a" />
<rect x="132.69" y="530.51" width="15.76" height="2.70" fill="#e5131a" />
<rect x="132.69" y="533.11" width="15.76" height="2.70" fill="#e5131a" />
<rect x="132.69" y="535.71" width="15.76" height="2.70" fill="#e5131a" />
<rect x="132.69" y="538.32" width="15.76" height="2.70" fill="#e5131a" />
<rect x="132.69" y="540.92" width="15.76" height="2.70" fill="#e5131a" />
<rect x="132.69" y="543.52" width="15.76" height="2.70" fill="#e5131a" />
<rect x="132.69" y="546.12" width="15.76" height="2.70" fill="#e5131a" />
<rect x="132.69" y="548.73" width="15.76" height="2.70" fill="#e9542f" />
<rect x="132.69" y="551.33" width="15.76" height="2.70" fill="#e9542f" />
<rect x="132.69" y="553.93" width="15.76" height="2.70" fill="#e5131a" />
<rect x="132.69" y="556.53" width="15.76" height="2.70" fill="#e5131a" />
<rect x="132.69" y="559.13" width="15.76" height="2.70" fill="#f08a70" />
<rect x="132.69" y="561.74" width="15.76" height="2.70" fill="#e5131a" />
<rect x="132.69" y="564.34" width="15.76" height="2.70" fill="#e5131a" />
<rect x="132.69" y="566.94" width="15.76" height="2.70" fill="#f9d9d0" />
<rect x="132.69" y="569.55" width="15.76" height="2.70" fill="#f5b3a2" />
<rect x="132.69" y="572.15" width="15.76" height="2.70" fill="#f5b3a2" />
<rect x="148.35" y="478.46" width="15.76" height="2.70" fill="#fcf0ee" />
<rect x="148.35" y="481.06" width="15.76" height="2.70" fill="#fcf0ee" />
<rect x="148.35" y="483.66" width="15.76" height="2.70" fill="#fcf0ee" />
<rect x="148.35" y="504.48" width="15.76" height="2.70" fill="#3c48a0" />
<rect x="148.35" y="507.08" width="15.76" height="2.70" fill="#3c48a0" />
<rect x="148.35" y="509.69" width="15.76" height="2.70" fill="#fcf0ee" />
<rect x="148.35" y="512.29" width="15.76" height="2.70" fill="#fcf0ee" />
<rect x="148.35" y="514.89" width="15.76" height="2.70" fill="#fcf0ee" />
<rect x="148.35" y="520.10" width="15.76" height="2.70" fill="#fcf0ee" />
<rect x="148.35" y="522.70" width="15.76" height="2.70" fill="#fcf0ee" />
<rect x="148.35" y="527.91" width="15.76" height="2.70" fill="#fcf0ee" />
<rect x="148.35" y="533.11" width="15.76" height="2.70" fill="#fcf0ee" />
<rect x="148.35" y="538.32" width="15.76" height="2.70" fill="#fcf0ee" />
<rect x="148.35" y="540.92" width="15.76" height="2.70" fill="#fcf0ee" />
<rect x="148.35" y="546.12" width="15.76" height="2.70" fill="#fcf0ee" />
<rect x="148.35" y="548.73" width="15.76" height="2.70" fill="#3c48a0" />
<rect x="148.35" y="566.94" width="15.76" height="2.70" fill="#ebe7f4" />
<rect x="148.35" y="569.55" width="15.76" height="2.70" fill="#3c48a0" />
<rect x="148.35" y="572.15" width="15.76" height="2.70" fill="#3c48a0" />
<rect x="164.01" y="470.65" width="15.76" height="2.70" fill="#f5b3a2" />
<rect x="164.01" y="473.25" width="15.76" height="2.70" fill="#f5b3a2" />
<rect x="164.01" y="475.85" width="15.76" height="2.70" fill="#f9d9d0" />
<rect x="164.01" y="478.46" width="15.76" height="2.70" fill="#f5b3a2" />
<rect x="164.01" y="481.06" width="15.76" height="2.70" fill="#f5b3a2" />
<rect x="164.01" y="483.66" width="15.76" height="2.70" fill="#f9d9d0" />
<rect x="164.01" y="486.26" width="15.76" height="2.70" fill="#f08a70" />
<rect x="164.01" y="488.87" width="15.76" height="2.70" fill="#f9d9d0" />
<rect x="164.01" y="491.47" width="15.76" height="2.70" fill="#f9d9d0" />
<rect x="164.01" y="494.07" width="15.76" height="2.70" fill="#f9d9d0" />
<rect x="164.01" y="496.67" width="15.76" height="2.70" fill="#f9d9d0" />
<rect x="164.01" y="499.28" width="15.76" height="2.70" fill="#f9d9d0" />
<rect x="164.01" y="501.88" width="15.76" height="2.70" fill="#f5b3a2" />
<rect x="164.01" y="504.48" width="15.76" height="2.70" fill="#f9d9d0" />
<rect x="164.01" y="507.08" width="15.76" height="2.70" fill="#f5b3a2" />
<rect x="164.01" y="509.69" width="15.76" height="2.70" fill="#f5b3a2" />
<rect x="164.01" y="512.29" width="15.76" height="2.70" fill="#f5b3a2" />
<rect x="164.01" y="514.89" width="15.76" height="2.70" fill="#f9d9d0" />
<rect x="164.01" y="517.50" width="15.76" height="2.70" fill="#f9d9d0" />
<rect x="164.01" y="520.10" width="15.76" height="2.70" fill="#f9d9d0" />
<rect x="164.01" y="522.70" width="15.76" height="2.70" fill="#f9d9d0" />
<rect x="164.01" y="525.30" width="15.76" height="2.70" fill="#fcf0ee" />
<rect x="164.01" y="527.91" width="15.76" height="2.70" fill="#f9d9d0" />
<rect x="164.01" y="530.51" width="15.76" height="2.70" fill="#fcf0ee" />
<rect x="164.01" y="533.11" width="15.76" height="2.70" fill="#f9d9d0" />
<rect x="164.01" y="535.71" width="15.76" height="2.70" fill="#f9d9d0" />
<rect x="164.01" y="538.32" width="15.76" height="2.70" fill="#e9542f" />
<rect x="164.01" y="540.92" width="15.76" height="2.70" fill="#e9542f" />
<rect x="164.01" y="543.52" width="15.76" height="2.70" fill="#e9542f" />
<rect x="164.01" y="546.12" width="15.76" height="2.70" fill="#f9d9d0" />
<rect x="164.01" y="548.73" width="15.76" height="2.70" fill="#8d86c4" />
<rect x="164.01" y="553.93" width="15.76" height="2.70" fill="#fcf0ee" />
<rect x="164.01" y="556.53" width="15.76" height="2.70" fill="#fcf0ee" />
<rect x="164.01" y="559.13" width="15.76" height="2.70" fill="#fcf0ee" />
<rect x="164.01" y="561.74" width="15.76" height="2.70" fill="#fcf0ee" />
<rect x="164.01" y="564.34" width="15.76" height="2.70" fill="#fcf0ee" />
<rect x="164.01" y="566.94" width="15.76" height="2.70" fill="#fcf0ee" />
<rect x="164.01" y="569.55" width="15.76" height="2.70" fill="#8d86c4" />
<rect x="164.01" y="572.15" width="15.76" height="2.70" fill="#fcf0ee" />
<rect x="179.67" y="470.65" width="15.76" height="2.70" fill="#e5131a" />
<rect x="179.67" y="473.25" width="15.76" height="2.70" fill="#e5131a" />
<rect x="179.67" y="475.85" width="15.76" height="2.70" fill="#e5131a" />
<rect x="179.67" y="478.46" width="15.76" height="2.70" fill="#e5131a" />
<rect x="179.67" y="481.06" width="15.76" height="2.70" fill="#e5131a" />
<rect x="179.67" y="483.66" width="15.76" height="2.70" fill="#e5131a" />
<rect x="179.67" y="486.26" width="15.76" height="2.70" fill="#e5131a" />
<rect x="179.67" y="488.87" width="15.76" height="2.70" fill="#e5131a" />
<rect x="179.67" y="491.47" width="15.76" height="2.70" fill="#e5131a" />
<rect x="179.67" y="494.07" width="15.76" height="2.70" fill="#e5131a" />
<rect x="179.67" y="496.67" width="15.76" height="2.70" fill="#e9542f" />
<rect x="179.67" y="499.28" width="15.76" height="2.70" fill="#e5131a" />
<rect x="179.67" y="501.88" width="15.76" height="2.70" fill="#e9542f" />
<rect x="179.67" y="504.48" width="15.76" height="2.70" fill="#e9542f" />
<rect x="179.67" y="507.08" width="15.76" height="2.70" fill="#e9542f" />
<rect x="179.67" y="509.69" width="15.76" height="2.70" fill="#fcf0ee" />
<rect x="179.67" y="512.29" width="15.76" height="2.70" fill="#fcf0ee" />
<rect x="179.67" y="514.89" width="15.76" height="2.70" fill="#fcf0ee" />
<rect x="179.67" y="517.50" width="15.76" height="2.70" fill="#fcf0ee" />
<rect x="179.67" y="520.10" width="15.76" height="2.70" fill="#fcf0ee" />
<rect x="179.67" y="522.70" width="15.76" height="2.70" fill="#fcf0ee" />
<rect x="179.67" y="525.30" width="15.76" height="2.70" fill="#fcf0ee" />
<rect x="179.67" y="527.91" width="15.76" height="2.70" fill="#fcf0ee" />
<rect x="179.67" y="530.51" width="15.76" height="2.70" fill="#fcf0ee" />
<rect x="179.67" y="533.11" width="15.76" height="2.70" fill="#fcf0ee" />
<rect x="179.67" y="535.71" width="15.76" height="2.70" fill="#f5b3a2" />
<rect x="179.67" y="538.32" width="15.76" height="2.70" fill="#f5b3a2" />
<rect x="179.67" y="540.92" width="15.76" height="2.70" fill="#f5b3a2" />
<rect x="179.67" y="543.52" width="15.76" height="2.70" fill="#f5b3a2" />
<rect x="179.67" y="546.12" width="15.76" height="2.70" fill="#f5b3a2" />
<rect x="179.67" y="548.73" width="15.76" height="2.70" fill="#fcf0ee" />
<rect x="179.67" y="551.33" width="15.76" height="2.70" fill="#fcf0ee" />
<rect x="179.67" y="553.93" width="15.76" height="2.70" fill="#fcf0ee" />
<rect x="179.67" y="556.53" width="15.76" height="2.70" fill="#fcf0ee" />
<rect x="179.67" y="559.13" width="15.76" height="2.70" fill="#c5bfe0" />
<rect x="179.67" y="561.74" width="15.76" height="2.70" fill="#f9d9d0" />
<rect x="179.67" y="564.34" width="15.76" height="2.70" fill="#f9d9d0" />
<rect x="179.67" y="566.94" width="15.76" height="2.70" fill="#f9d9d0" />
<rect x="179.67" y="569.55" width="15.76" height="2.70" fill="#c5bfe0" />
<rect x="179.67" y="572.15" width="15.76" height="2.70" fill="#f08a70" />
<rect x="197.00" y="470.70" width="5.70" height="1.65" fill="#a0449a" />
<rect x="197.00" y="472.30" width="5.70" height="3.65" fill="#d3101f" />
<rect x="197.00" y="475.90" width="5.70" height="1.75" fill="#a0449a" />
<rect x="197.00" y="477.60" width="5.70" height="2.25" fill="#d3101f" />
<rect x="197.00" y="479.80" width="5.70" height="3.25" fill="#f5c800" />
<rect x="197.00" y="483.00" width="5.70" height="3.95" fill="#d3101f" />
<rect x="197.00" y="486.90" width="5.70" height="2.95" fill="#b8aeb0" />
<rect x="197.00" y="489.80" width="5.70" height="2.15" fill="#d3101f" />
<rect x="197.00" y="491.90" width="5.70" height="2.55" fill="#f5c800" />
<rect x="197.00" y="494.40" width="5.70" height="2.95" fill="#d3101f" />
<rect x="197.00" y="497.30" width="5.70" height="2.55" fill="#f5c800" />
<rect x="197.00" y="499.80" width="5.70" height="2.55" fill="#b8aeb0" />
<rect x="197.00" y="502.30" width="5.70" height="2.15" fill="#f5c800" />
<rect x="197.00" y="504.40" width="5.70" height="3.65" fill="#88c9ec" />
<rect x="197.00" y="508.00" width="5.70" height="1.45" fill="#4aad2c" />
<rect x="197.00" y="509.40" width="5.70" height="12.25" fill="#88c9ec" />
<rect x="197.00" y="521.60" width="5.70" height="4.35" fill="#d3101f" />
<rect x="197.00" y="525.90" width="5.70" height="5.35" fill="#4aad2c" />
<rect x="197.00" y="531.20" width="5.70" height="2.95" fill="#d3101f" />
<rect x="197.00" y="534.10" width="5.70" height="7.15" fill="#4aad2c" />
<rect x="197.00" y="541.20" width="5.70" height="2.95" fill="#d3101f" />
<rect x="197.00" y="544.10" width="5.70" height="1.85" fill="#a0449a" />
<rect x="197.00" y="545.90" width="5.70" height="2.85" fill="#88c9ec" />
<rect x="197.00" y="548.70" width="5.70" height="3.65" fill="#f5c800" />
<rect x="197.00" y="552.30" width="5.70" height="13.65" fill="#4aad2c" />
<rect x="197.00" y="565.90" width="5.70" height="1.95" fill="#f5c800" />
<rect x="197.00" y="567.80" width="5.70" height="7.05" fill="#4aad2c" />
<line x1="132.60" y1="470.70" x2="132.60" y2="600.30" stroke="#555" stroke-width="0.8" />
<line x1="70.10" y1="509.70" x2="220.30" y2="509.70" stroke="#777" stroke-width="0.9" />
<line x1="70.10" y1="565.60" x2="220.30" y2="565.60" stroke="#777" stroke-width="0.9" />
<text x="211.60" y="493.32" font-size="7.2" text-anchor="middle" fill="#151515" textLength="7.50" lengthAdjust="spacingAndGlyphs" >#1</text>
<text x="211.60" y="541.92" font-size="7.2" text-anchor="middle" fill="#151515" textLength="7.50" lengthAdjust="spacingAndGlyphs" >#2</text>
<text x="211.60" y="572.92" font-size="7.2" text-anchor="middle" fill="#151515" textLength="7.50" lengthAdjust="spacingAndGlyphs" >#3</text>
<path d="M77.93 470.70 L77.93 465.40 L93.59 465.40 L93.59 470.70" fill="none" stroke="#333" stroke-width="0.9"/>
<path d="M85.76 465.40 L85.76 458.10 L109.25 458.10 L109.25 470.70" fill="none" stroke="#333" stroke-width="0.9"/>
<path d="M97.50 458.10 L97.50 427.20 L124.91 427.20 L124.91 470.70" fill="none" stroke="#333" stroke-width="0.9"/>
<path d="M171.89 470.70 L171.89 468.60 L187.55 468.60 L187.55 470.70" fill="none" stroke="#333" stroke-width="0.9"/>
<path d="M156.23 470.70 L156.23 467.60 L179.72 467.60 L179.72 468.60" fill="none" stroke="#333" stroke-width="0.9"/>
<path d="M140.57 470.70 L140.57 457.80 L167.97 457.80 L167.97 467.60" fill="none" stroke="#333" stroke-width="0.9"/>
<path d="M154.27 457.80 L154.27 425.50 L111.21 425.50 L111.21 427.20" fill="none" stroke="#333" stroke-width="0.9"/>
<path d="M68.40 472.00 L70.10 472.00" fill="none" stroke="#333" stroke-width="0.85"/>
<path d="M68.40 474.60 L70.10 474.60" fill="none" stroke="#333" stroke-width="0.85"/>
<path d="M68.40 472.00 L68.40 474.60" fill="none" stroke="#333" stroke-width="0.85"/>
<path d="M67.80 473.30 L68.40 473.30" fill="none" stroke="#333" stroke-width="0.85"/>
<path d="M67.80 477.21 L70.10 477.21" fill="none" stroke="#333" stroke-width="0.85"/>
<path d="M67.80 473.30 L67.80 477.21" fill="none" stroke="#333" stroke-width="0.85"/>
<path d="M67.10 475.25 L67.80 475.25" fill="none" stroke="#333" stroke-width="0.85"/>
<path d="M67.10 479.81 L70.10 479.81" fill="none" stroke="#333" stroke-width="0.85"/>
<path d="M67.10 475.25 L67.10 479.81" fill="none" stroke="#333" stroke-width="0.85"/>
<path d="M66.40 477.53 L67.10 477.53" fill="none" stroke="#333" stroke-width="0.85"/>
<path d="M66.40 482.41 L70.10 482.41" fill="none" stroke="#333" stroke-width="0.85"/>
<path d="M66.40 477.53 L66.40 482.41" fill="none" stroke="#333" stroke-width="0.85"/>
<path d="M65.60 479.97 L66.40 479.97" fill="none" stroke="#333" stroke-width="0.85"/>
<path d="M68.20 485.01 L70.10 485.01" fill="none" stroke="#333" stroke-width="0.85"/>
<path d="M68.20 487.62 L70.10 487.62" fill="none" stroke="#333" stroke-width="0.85"/>
<path d="M68.20 485.01 L68.20 487.62" fill="none" stroke="#333" stroke-width="0.85"/>
<path d="M65.60 486.31 L68.20 486.31" fill="none" stroke="#333" stroke-width="0.85"/>
<path d="M65.60 479.97 L65.60 486.31" fill="none" stroke="#333" stroke-width="0.85"/>
<path d="M64.50 483.14 L65.60 483.14" fill="none" stroke="#333" stroke-width="0.85"/>
<path d="M64.50 490.22 L70.10 490.22" fill="none" stroke="#333" stroke-width="0.85"/>
<path d="M64.50 483.14 L64.50 490.22" fill="none" stroke="#333" stroke-width="0.85"/>
<path d="M62.60 486.68 L64.50 486.68" fill="none" stroke="#333" stroke-width="0.85"/>
<path d="M62.60 492.82 L70.10 492.82" fill="none" stroke="#333" stroke-width="0.85"/>
<path d="M62.60 486.68 L62.60 492.82" fill="none" stroke="#333" stroke-width="0.85"/>
<path d="M54.30 489.75 L62.60 489.75" fill="none" stroke="#333" stroke-width="0.85"/>
<path d="M54.30 495.42 L70.10 495.42" fill="none" stroke="#333" stroke-width="0.85"/>
<path d="M54.30 489.75 L54.30 495.42" fill="none" stroke="#333" stroke-width="0.85"/>
<path d="M52.20 492.59 L54.30 492.59" fill="none" stroke="#333" stroke-width="0.85"/>
<path d="M66.50 498.03 L70.10 498.03" fill="none" stroke="#333" stroke-width="0.85"/>
<path d="M66.50 500.63 L70.10 500.63" fill="none" stroke="#333" stroke-width="0.85"/>
<path d="M66.50 498.03 L66.50 500.63" fill="none" stroke="#333" stroke-width="0.85"/>
<path d="M64.50 499.33 L66.50 499.33" fill="none" stroke="#333" stroke-width="0.85"/>
<path d="M67.50 503.23 L70.10 503.23" fill="none" stroke="#333" stroke-width="0.85"/>
<path d="M67.50 505.83 L70.10 505.83" fill="none" stroke="#333" stroke-width="0.85"/>
<path d="M67.50 503.23 L67.50 505.83" fill="none" stroke="#333" stroke-width="0.85"/>
<path d="M64.50 504.53 L67.50 504.53" fill="none" stroke="#333" stroke-width="0.85"/>
<path d="M64.50 499.33 L64.50 504.53" fill="none" stroke="#333" stroke-width="0.85"/>
<path d="M58.10 501.93 L64.50 501.93" fill="none" stroke="#333" stroke-width="0.85"/>
<path d="M58.10 508.44 L70.10 508.44" fill="none" stroke="#333" stroke-width="0.85"/>
<path d="M58.10 501.93 L58.10 508.44" fill="none" stroke="#333" stroke-width="0.85"/>
<path d="M52.20 505.18 L58.10 505.18" fill="none" stroke="#333" stroke-width="0.85"/>
<path d="M52.20 492.59 L52.20 505.18" fill="none" stroke="#333" stroke-width="0.85"/>
<path d="M26.80 498.89 L52.20 498.89" fill="none" stroke="#333" stroke-width="0.85"/>
<path d="M67.00 511.04 L70.10 511.04" fill="none" stroke="#333" stroke-width="0.85"/>
<path d="M67.00 513.64 L70.10 513.64" fill="none" stroke="#333" stroke-width="0.85"/>
<path d="M67.00 511.04 L67.00 513.64" fill="none" stroke="#333" stroke-width="0.85"/>
<path d="M65.50 512.34 L67.00 512.34" fill="none" stroke="#333" stroke-width="0.85"/>
<path d="M67.60 516.24 L70.10 516.24" fill="none" stroke="#333" stroke-width="0.85"/>
<path d="M67.60 518.85 L70.10 518.85" fill="none" stroke="#333" stroke-width="0.85"/>
<path d="M67.60 516.24 L67.60 518.85" fill="none" stroke="#333" stroke-width="0.85"/>
<path d="M65.50 517.54 L67.60 517.54" fill="none" stroke="#333" stroke-width="0.85"/>
<path d="M65.50 512.34 L65.50 517.54" fill="none" stroke="#333" stroke-width="0.85"/>
<path d="M63.90 514.94 L65.50 514.94" fill="none" stroke="#333" stroke-width="0.85"/>
<path d="M67.80 521.45 L70.10 521.45" fill="none" stroke="#333" stroke-width="0.85"/>
<path d="M67.80 524.05 L70.10 524.05" fill="none" stroke="#333" stroke-width="0.85"/>
<path d="M67.80 521.45 L67.80 524.05" fill="none" stroke="#333" stroke-width="0.85"/>
<path d="M66.50 522.75 L67.80 522.75" fill="none" stroke="#333" stroke-width="0.85"/>
<path d="M66.50 526.65 L70.10 526.65" fill="none" stroke="#333" stroke-width="0.85"/>
<path d="M66.50 522.75 L66.50 526.65" fill="none" stroke="#333" stroke-width="0.85"/>
<path d="M63.90 524.70 L66.50 524.70" fill="none" stroke="#333" stroke-width="0.85"/>
<path d="M63.90 529.26 L70.10 529.26" fill="none" stroke="#333" stroke-width="0.85"/>
<path d="M63.90 514.94 L63.90 529.26" fill="none" stroke="#333" stroke-width="0.85"/>
<path d="M61.20 522.10 L63.90 522.10" fill="none" stroke="#333" stroke-width="0.85"/>
<path d="M67.40 531.86 L70.10 531.86" fill="none" stroke="#333" stroke-width="0.85"/>
<path d="M67.40 534.46 L70.10 534.46" fill="none" stroke="#333" stroke-width="0.85"/>
<path d="M67.40 531.86 L67.40 534.46" fill="none" stroke="#333" stroke-width="0.85"/>
<path d="M65.60 533.16 L67.40 533.16" fill="none" stroke="#333" stroke-width="0.85"/>
<path d="M65.60 537.06 L70.10 537.06" fill="none" stroke="#333" stroke-width="0.85"/>
<path d="M65.60 533.16 L65.60 537.06" fill="none" stroke="#333" stroke-width="0.85"/>
<path d="M61.20 535.11 L65.60 535.11" fill="none" stroke="#333" stroke-width="0.85"/>
<path d="M61.20 522.10 L61.20 535.11" fill="none" stroke="#333" stroke-width="0.85"/>
<path d="M57.30 528.61 L61.20 528.61" fill="none" stroke="#333" stroke-width="0.85"/>
<path d="M66.50 539.67 L70.10 539.67" fill="none" stroke="#333" stroke-width="0.85"/>
<path d="M66.50 542.27 L70.10 542.27" fill="none" stroke="#333" stroke-width="0.85"/>
<path d="M66.50 539.67 L66.50 542.27" fill="none" stroke="#333" stroke-width="0.85"/>
<path d="M62.40 540.97 L66.50 540.97" fill="none" stroke="#333" stroke-width="0.85"/>
<path d="M62.40 544.87 L70.10 544.87" fill="none" stroke="#333" stroke-width="0.85"/>
<path d="M62.40 540.97 L62.40 544.87" fill="none" stroke="#333" stroke-width="0.85"/>
<path d="M57.30 542.92 L62.40 542.92" fill="none" stroke="#333" stroke-width="0.85"/>
<path d="M57.30 528.61 L57.30 542.92" fill="none" stroke="#333" stroke-width="0.85"/>
<path d="M48.40 535.76 L57.30 535.76" fill="none" stroke="#333" stroke-width="0.85"/>
<path d="M59.50 547.47 L70.10 547.47" fill="none" stroke="#333" stroke-width="0.85"/>
<path d="M59.50 550.08 L70.10 550.08" fill="none" stroke="#333" stroke-width="0.85"/>
<path d="M59.50 547.47 L59.50 550.08" fill="none" stroke="#333" stroke-width="0.85"/>
<path d="M51.00 548.77 L59.50 548.77" fill="none" stroke="#333" stroke-width="0.85"/>
<path d="M66.80 552.68 L70.10 552.68" fill="none" stroke="#333" stroke-width="0.85"/>
<path d="M66.80 555.28 L70.10 555.28" fill="none" stroke="#333" stroke-width="0.85"/>
<path d="M66.80 552.68 L66.80 555.28" fill="none" stroke="#333" stroke-width="0.85"/>
<path d="M63.50 553.98 L66.80 553.98" fill="none" stroke="#333" stroke-width="0.85"/>
<path d="M63.50 557.88 L70.10 557.88" fill="none" stroke="#333" stroke-width="0.85"/>
<path d="M63.50 553.98 L63.50 557.88" fill="none" stroke="#333" stroke-width="0.85"/>
<path d="M59.00 555.93 L63.50 555.93" fill="none" stroke="#333" stroke-width="0.85"/>
<path d="M65.50 560.49 L70.10 560.49" fill="none" stroke="#333" stroke-width="0.85"/>
<path d="M67.60 563.09 L70.10 563.09" fill="none" stroke="#333" stroke-width="0.85"/>
<path d="M67.60 565.69 L70.10 565.69" fill="none" stroke="#333" stroke-width="0.85"/>
<path d="M67.60 563.09 L67.60 565.69" fill="none" stroke="#333" stroke-width="0.85"/>
<path d="M65.50 564.39 L67.60 564.39" fill="none" stroke="#333" stroke-width="0.85"/>
<path d="M65.50 560.49 L65.50 564.39" fill="none" stroke="#333" stroke-width="0.85"/>
<path d="M59.00 562.44 L65.50 562.44" fill="none" stroke="#333" stroke-width="0.85"/>
<path d="M59.00 555.93 L59.00 562.44" fill="none" stroke="#333" stroke-width="0.85"/>
<path d="M51.00 559.18 L59.00 559.18" fill="none" stroke="#333" stroke-width="0.85"/>
<path d="M51.00 548.77 L51.00 559.18" fill="none" stroke="#333" stroke-width="0.85"/>
<path d="M48.40 553.98 L51.00 553.98" fill="none" stroke="#333" stroke-width="0.85"/>
<path d="M48.40 535.76 L48.40 553.98" fill="none" stroke="#333" stroke-width="0.85"/>
<path d="M26.80 544.87 L48.40 544.87" fill="none" stroke="#333" stroke-width="0.85"/>
<path d="M26.80 498.89 L26.80 544.87" fill="none" stroke="#333" stroke-width="0.85"/>
<path d="M22.10 521.88 L26.80 521.88" fill="none" stroke="#333" stroke-width="0.85"/>
<path d="M35.10 568.29 L70.10 568.29" fill="none" stroke="#333" stroke-width="0.85"/>
<path d="M35.10 570.90 L70.10 570.90" fill="none" stroke="#333" stroke-width="0.85"/>
<path d="M35.10 568.29 L35.10 570.90" fill="none" stroke="#333" stroke-width="0.85"/>
<path d="M29.60 569.60 L35.10 569.60" fill="none" stroke="#333" stroke-width="0.85"/>
<path d="M29.60 573.50 L70.10 573.50" fill="none" stroke="#333" stroke-width="0.85"/>
<path d="M29.60 569.60 L29.60 573.50" fill="none" stroke="#333" stroke-width="0.85"/>
<path d="M22.10 571.55 L29.60 571.55" fill="none" stroke="#333" stroke-width="0.85"/>
<path d="M22.10 521.88 L22.10 571.55" fill="none" stroke="#333" stroke-width="0.85"/>
<text x="79.53" y="598.95" font-size="7.2" font-style="italic" fill="#1a1a1a" stroke="#1a1a1a" stroke-width="0.15" text-anchor="start" textLength="17.5" lengthAdjust="spacingAndGlyphs" transform="rotate(-90 79.53 596.5)">STAT2</text>
<text x="95.19" y="598.95" font-size="7.2" font-style="italic" fill="#1a1a1a" stroke="#1a1a1a" stroke-width="0.15" text-anchor="start" textLength="14.5" lengthAdjust="spacingAndGlyphs" transform="rotate(-90 95.19 596.5)">IFIT3</text>
<text x="110.85" y="598.95" font-size="7.2" font-style="italic" fill="#1a1a1a" stroke="#1a1a1a" stroke-width="0.15" text-anchor="start" textLength="17.5" lengthAdjust="spacingAndGlyphs" transform="rotate(-90 110.85 596.5)">STAT1</text>
<text x="126.51" y="598.95" font-size="7.2" font-style="italic" fill="#1a1a1a" stroke="#1a1a1a" stroke-width="0.15" text-anchor="start" textLength="14.5" lengthAdjust="spacingAndGlyphs" transform="rotate(-90 126.51 596.5)">IFIT2</text>
<text x="142.17" y="598.95" font-size="7.2" font-style="italic" fill="#1a1a1a" stroke="#1a1a1a" stroke-width="0.15" text-anchor="start" textLength="17.5" lengthAdjust="spacingAndGlyphs" transform="rotate(-90 142.17 596.5)">STAT1</text>
<text x="157.83" y="598.95" font-size="7.2" font-style="italic" fill="#1a1a1a" stroke="#1a1a1a" stroke-width="0.15" text-anchor="start" textLength="17.5" lengthAdjust="spacingAndGlyphs" transform="rotate(-90 157.83 596.5)">STAT2</text>
<text x="173.49" y="598.95" font-size="7.2" font-style="italic" fill="#1a1a1a" stroke="#1a1a1a" stroke-width="0.15" text-anchor="start" textLength="14.5" lengthAdjust="spacingAndGlyphs" transform="rotate(-90 173.49 596.5)">IFIT3</text>
<text x="189.15" y="598.95" font-size="7.2" font-style="italic" fill="#1a1a1a" stroke="#1a1a1a" stroke-width="0.15" text-anchor="start" textLength="14.5" lengthAdjust="spacingAndGlyphs" transform="rotate(-90 189.15 596.5)">IFIT2</text>
<line x1="72.10" y1="600.20" x2="129.20" y2="600.20" stroke="#888" stroke-width="0.9" />
<line x1="138.50" y1="600.20" x2="193.30" y2="600.20" stroke="#888" stroke-width="0.9" />
<text x="102.40" y="608.25" font-size="7" text-anchor="middle" fill="#151515" textLength="14.50" lengthAdjust="spacingAndGlyphs" >–IFNa</text>
<text x="165.60" y="608.25" font-size="7" text-anchor="middle" fill="#151515" textLength="15.00" lengthAdjust="spacingAndGlyphs" >+IFNa</text>
<rect x="175.80" y="415.10" width="5.20" height="5.20" fill="#d3101f" />
<text x="184.20" y="420.32" font-size="7.5" text-anchor="start" fill="#222" textLength="8.00" lengthAdjust="spacingAndGlyphs" >PV</text>
<rect x="175.80" y="422.68" width="5.20" height="5.20" fill="#f5c800" />
<text x="184.20" y="427.90" font-size="7.5" text-anchor="start" fill="#222" textLength="7.20" lengthAdjust="spacingAndGlyphs" >ET</text>
<rect x="175.80" y="430.26" width="5.20" height="5.20" fill="#88c9ec" />
<text x="184.20" y="435.49" font-size="7.5" text-anchor="start" fill="#222" textLength="13.20" lengthAdjust="spacingAndGlyphs" >PMF</text>
<rect x="175.80" y="437.84" width="5.20" height="5.20" fill="#a0449a" />
<text x="184.20" y="443.06" font-size="7.5" text-anchor="start" fill="#222" textLength="33.70" lengthAdjust="spacingAndGlyphs" >Post-PV-MF</text>
<rect x="175.80" y="445.42" width="5.20" height="5.20" fill="#b8aeb0" />
<text x="184.20" y="450.64" font-size="7.5" text-anchor="start" fill="#222" textLength="18.00" lengthAdjust="spacingAndGlyphs" >MPNu</text>
<rect x="175.80" y="453.00" width="5.20" height="5.20" fill="#4aad2c" />
<text x="184.20" y="458.22" font-size="7.5" text-anchor="start" fill="#222" textLength="9.70" lengthAdjust="spacingAndGlyphs" >HC</text>
<text x="263.30" y="408.65" font-size="11" text-anchor="middle" fill="#111" font-weight="bold" stroke="#111" stroke-width="0.45">I</text>
<line x1="300.80" y1="417.00" x2="300.80" y2="501.20" stroke="#1a1a1a" stroke-width="1.4" />
<line x1="297.60" y1="501.20" x2="300.80" y2="501.20" stroke="#1a1a1a" stroke-width="0.8" />
<text x="295.50" y="503.58" font-size="6.8" text-anchor="end" fill="#1a1a1a" textLength="3.72" lengthAdjust="spacingAndGlyphs" >0</text>
<line x1="297.60" y1="490.95" x2="300.80" y2="490.95" stroke="#1a1a1a" stroke-width="0.8" />
<text x="295.50" y="493.33" font-size="6.8" text-anchor="end" fill="#1a1a1a" textLength="11.16" lengthAdjust="spacingAndGlyphs" >200</text>
<line x1="297.60" y1="480.70" x2="300.80" y2="480.70" stroke="#1a1a1a" stroke-width="0.8" />
<text x="295.50" y="483.08" font-size="6.8" text-anchor="end" fill="#1a1a1a" textLength="11.16" lengthAdjust="spacingAndGlyphs" >400</text>
<line x1="297.60" y1="470.45" x2="300.80" y2="470.45" stroke="#1a1a1a" stroke-width="0.8" />
<text x="295.50" y="472.83" font-size="6.8" text-anchor="end" fill="#1a1a1a" textLength="11.16" lengthAdjust="spacingAndGlyphs" >600</text>
<line x1="297.60" y1="460.20" x2="300.80" y2="460.20" stroke="#1a1a1a" stroke-width="0.8" />
<text x="295.50" y="462.58" font-size="6.8" text-anchor="end" fill="#1a1a1a" textLength="11.16" lengthAdjust="spacingAndGlyphs" >800</text>
<line x1="297.60" y1="449.95" x2="300.80" y2="449.95" stroke="#1a1a1a" stroke-width="0.8" />
<text x="295.50" y="452.33" font-size="6.8" text-anchor="end" fill="#1a1a1a" textLength="14.88" lengthAdjust="spacingAndGlyphs" >1000</text>
<line x1="297.60" y1="439.70" x2="300.80" y2="439.70" stroke="#1a1a1a" stroke-width="0.8" />
<text x="295.50" y="442.08" font-size="6.8" text-anchor="end" fill="#1a1a1a" textLength="14.88" lengthAdjust="spacingAndGlyphs" >1200</text>
<line x1="297.60" y1="429.45" x2="300.80" y2="429.45" stroke="#1a1a1a" stroke-width="0.8" />
<text x="295.50" y="431.83" font-size="6.8" text-anchor="end" fill="#1a1a1a" textLength="14.88" lengthAdjust="spacingAndGlyphs" >1400</text>
<line x1="297.60" y1="419.20" x2="300.80" y2="419.20" stroke="#1a1a1a" stroke-width="0.8" />
<text x="295.50" y="421.58" font-size="6.8" text-anchor="end" fill="#1a1a1a" textLength="14.88" lengthAdjust="spacingAndGlyphs" >1600</text>
<rect x="301.60" y="474.00" width="1.4" height="27.20" fill="#ebebeb" stroke="#a8a8a8" stroke-width="0.35"/>
<line x1="302.30" y1="478.08" x2="302.30" y2="483.52" stroke="#666" stroke-width="0.7" />
<line x1="302.30" y1="474.00" x2="302.30" y2="475.63" stroke="#777" stroke-width="0.6" />
<rect x="303.90" y="481.00" width="1.4" height="20.20" fill="#ebebeb" stroke="#a8a8a8" stroke-width="0.35"/>
<line x1="304.60" y1="484.03" x2="304.60" y2="488.07" stroke="#666" stroke-width="0.7" />
<line x1="304.60" y1="481.00" x2="304.60" y2="482.21" stroke="#777" stroke-width="0.6" />
<rect x="312.10" y="498.20" width="1.4" height="3.00" fill="#ebebeb" stroke="#a8a8a8" stroke-width="0.35"/>
<rect x="314.30" y="489.50" width="1.4" height="11.70" fill="#ebebeb" stroke="#a8a8a8" stroke-width="0.35"/>
<line x1="315.00" y1="491.25" x2="315.00" y2="493.59" stroke="#666" stroke-width="0.7" />
<line x1="315.00" y1="489.50" x2="315.00" y2="490.20" stroke="#777" stroke-width="0.6" />
<rect x="318.10" y="492.50" width="1.4" height="8.70" fill="#ebebeb" stroke="#a8a8a8" stroke-width="0.35"/>
<line x1="318.80" y1="493.81" x2="318.80" y2="495.55" stroke="#666" stroke-width="0.7" />
<line x1="318.80" y1="492.50" x2="318.80" y2="493.02" stroke="#777" stroke-width="0.6" />
<rect x="322.60" y="487.50" width="1.4" height="13.70" fill="#ebebeb" stroke="#a8a8a8" stroke-width="0.35"/>
<line x1="323.30" y1="489.56" x2="323.30" y2="492.30" stroke="#666" stroke-width="0.7" />
<line x1="323.30" y1="487.50" x2="323.30" y2="488.32" stroke="#777" stroke-width="0.6" />
<rect x="326.10" y="487.80" width="1.4" height="13.40" fill="#ebebeb" stroke="#a8a8a8" stroke-width="0.35"/>
<rect x="328.60" y="487.00" width="1.4" height="14.20" fill="#ebebeb" stroke="#a8a8a8" stroke-width="0.35"/>
<line x1="329.30" y1="489.13" x2="329.30" y2="491.97" stroke="#666" stroke-width="0.7" />
<line x1="329.30" y1="487.00" x2="329.30" y2="487.85" stroke="#777" stroke-width="0.6" />
<rect x="331.10" y="481.00" width="1.4" height="20.20" fill="#ebebeb" stroke="#a8a8a8" stroke-width="0.35"/>
<line x1="331.80" y1="484.03" x2="331.80" y2="488.07" stroke="#666" stroke-width="0.7" />
<line x1="331.80" y1="481.00" x2="331.80" y2="482.21" stroke="#777" stroke-width="0.6" />
<rect x="333.50" y="473.00" width="1.4" height="28.20" fill="#ebebeb" stroke="#a8a8a8" stroke-width="0.35"/>
<line x1="334.20" y1="477.23" x2="334.20" y2="482.87" stroke="#666" stroke-width="0.7" />
<line x1="334.20" y1="473.00" x2="334.20" y2="474.69" stroke="#777" stroke-width="0.6" />
<rect x="337.70" y="490.50" width="1.4" height="10.70" fill="#ebebeb" stroke="#a8a8a8" stroke-width="0.35"/>
<line x1="338.40" y1="492.11" x2="338.40" y2="494.25" stroke="#666" stroke-width="0.7" />
<line x1="338.40" y1="490.50" x2="338.40" y2="491.14" stroke="#777" stroke-width="0.6" />
<rect x="340.20" y="490.00" width="1.4" height="11.20" fill="#ebebeb" stroke="#a8a8a8" stroke-width="0.35"/>
<line x1="340.90" y1="491.68" x2="340.90" y2="493.92" stroke="#666" stroke-width="0.7" />
<line x1="340.90" y1="490.00" x2="340.90" y2="490.67" stroke="#777" stroke-width="0.6" />
<rect x="342.60" y="455.50" width="1.4" height="45.70" fill="#ebebeb" stroke="#a8a8a8" stroke-width="0.35"/>
<line x1="343.30" y1="462.36" x2="343.30" y2="471.50" stroke="#666" stroke-width="0.7" />
<line x1="343.30" y1="455.50" x2="343.30" y2="458.24" stroke="#777" stroke-width="0.6" />
<rect x="346.50" y="498.20" width="1.4" height="3.00" fill="#ebebeb" stroke="#a8a8a8" stroke-width="0.35"/>
<rect x="350.10" y="488.50" width="1.4" height="12.70" fill="#ebebeb" stroke="#a8a8a8" stroke-width="0.35"/>
<line x1="350.80" y1="490.40" x2="350.80" y2="492.94" stroke="#666" stroke-width="0.7" />
<line x1="350.80" y1="488.50" x2="350.80" y2="489.26" stroke="#777" stroke-width="0.6" />
<rect x="352.50" y="473.00" width="1.4" height="28.20" fill="#ebebeb" stroke="#a8a8a8" stroke-width="0.35"/>
<line x1="353.20" y1="477.23" x2="353.20" y2="482.87" stroke="#666" stroke-width="0.7" />
<line x1="353.20" y1="473.00" x2="353.20" y2="474.69" stroke="#777" stroke-width="0.6" />
<rect x="354.60" y="492.00" width="1.4" height="9.20" fill="#ebebeb" stroke="#a8a8a8" stroke-width="0.35"/>
<line x1="355.30" y1="493.38" x2="355.30" y2="495.22" stroke="#666" stroke-width="0.7" />
<line x1="355.30" y1="492.00" x2="355.30" y2="492.55" stroke="#777" stroke-width="0.6" />
<rect x="358.20" y="471.00" width="1.4" height="30.20" fill="#ebebeb" stroke="#a8a8a8" stroke-width="0.35"/>
<line x1="358.90" y1="475.53" x2="358.90" y2="481.57" stroke="#666" stroke-width="0.7" />
<line x1="358.90" y1="471.00" x2="358.90" y2="472.81" stroke="#777" stroke-width="0.6" />
<rect x="362.10" y="489.20" width="1.4" height="12.00" fill="#ebebeb" stroke="#a8a8a8" stroke-width="0.35"/>
<rect x="367.00" y="490.80" width="1.4" height="10.40" fill="#ebebeb" stroke="#a8a8a8" stroke-width="0.35"/>
<rect x="369.30" y="497.00" width="1.4" height="4.20" fill="#ebebeb" stroke="#a8a8a8" stroke-width="0.35"/>
<rect x="371.60" y="473.80" width="1.4" height="27.40" fill="#ebebeb" stroke="#a8a8a8" stroke-width="0.35"/>
<line x1="372.30" y1="477.91" x2="372.30" y2="483.39" stroke="#666" stroke-width="0.7" />
<line x1="372.30" y1="473.80" x2="372.30" y2="475.44" stroke="#777" stroke-width="0.6" />
<rect x="373.60" y="467.00" width="1.4" height="34.20" fill="#ebebeb" stroke="#a8a8a8" stroke-width="0.35"/>
<line x1="374.30" y1="472.13" x2="374.30" y2="478.97" stroke="#666" stroke-width="0.7" />
<line x1="374.30" y1="467.00" x2="374.30" y2="469.05" stroke="#777" stroke-width="0.6" />
<rect x="375.80" y="424.60" width="1.4" height="76.60" fill="#ebebeb" stroke="#a8a8a8" stroke-width="0.35"/>
<line x1="376.50" y1="436.09" x2="376.50" y2="451.41" stroke="#666" stroke-width="0.7" />
<line x1="376.50" y1="424.60" x2="376.50" y2="429.20" stroke="#777" stroke-width="0.6" />
<rect x="377.80" y="495.00" width="1.4" height="6.20" fill="#ebebeb" stroke="#a8a8a8" stroke-width="0.35"/>
<rect x="379.80" y="460.80" width="1.4" height="40.40" fill="#ebebeb" stroke="#a8a8a8" stroke-width="0.35"/>
<line x1="380.50" y1="466.86" x2="380.50" y2="474.94" stroke="#666" stroke-width="0.7" />
<line x1="380.50" y1="460.80" x2="380.50" y2="463.22" stroke="#777" stroke-width="0.6" />
<rect x="381.90" y="477.70" width="1.4" height="23.50" fill="#ebebeb" stroke="#a8a8a8" stroke-width="0.35"/>
<line x1="382.60" y1="481.22" x2="382.60" y2="485.93" stroke="#666" stroke-width="0.7" />
<line x1="382.60" y1="477.70" x2="382.60" y2="479.11" stroke="#777" stroke-width="0.6" />
<rect x="383.90" y="488.00" width="1.4" height="13.20" fill="#ebebeb" stroke="#a8a8a8" stroke-width="0.35"/>
<rect x="385.90" y="486.00" width="1.4" height="15.20" fill="#ebebeb" stroke="#a8a8a8" stroke-width="0.35"/>
<rect x="388.10" y="482.00" width="1.4" height="19.20" fill="#ebebeb" stroke="#a8a8a8" stroke-width="0.35"/>
<line x1="388.80" y1="484.88" x2="388.80" y2="488.72" stroke="#666" stroke-width="0.7" />
<line x1="388.80" y1="482.00" x2="388.80" y2="483.15" stroke="#777" stroke-width="0.6" />
<rect x="390.50" y="451.80" width="1.4" height="49.40" fill="#ebebeb" stroke="#a8a8a8" stroke-width="0.35"/>
<line x1="391.20" y1="459.21" x2="391.20" y2="469.09" stroke="#666" stroke-width="0.7" />
<line x1="391.20" y1="451.80" x2="391.20" y2="454.76" stroke="#777" stroke-width="0.6" />
<rect x="392.30" y="487.00" width="1.4" height="14.20" fill="#ebebeb" stroke="#a8a8a8" stroke-width="0.35"/>
<line x1="393.00" y1="489.13" x2="393.00" y2="491.97" stroke="#666" stroke-width="0.7" />
<line x1="393.00" y1="487.00" x2="393.00" y2="487.85" stroke="#777" stroke-width="0.6" />
<rect x="394.70" y="473.80" width="1.4" height="27.40" fill="#ebebeb" stroke="#a8a8a8" stroke-width="0.35"/>
<line x1="395.40" y1="477.91" x2="395.40" y2="483.39" stroke="#666" stroke-width="0.7" />
<line x1="395.40" y1="473.80" x2="395.40" y2="475.44" stroke="#777" stroke-width="0.6" />
<rect x="396.70" y="493.00" width="1.4" height="8.20" fill="#ebebeb" stroke="#a8a8a8" stroke-width="0.35"/>
<rect x="399.00" y="489.00" width="1.4" height="12.20" fill="#ebebeb" stroke="#a8a8a8" stroke-width="0.35"/>
<line x1="399.70" y1="490.83" x2="399.70" y2="493.27" stroke="#666" stroke-width="0.7" />
<line x1="399.70" y1="489.00" x2="399.70" y2="489.73" stroke="#777" stroke-width="0.6" />
<rect x="401.10" y="496.50" width="1.4" height="4.70" fill="#ebebeb" stroke="#a8a8a8" stroke-width="0.35"/>
<rect x="403.50" y="495.50" width="1.4" height="5.70" fill="#ebebeb" stroke="#a8a8a8" stroke-width="0.35"/>
<rect x="405.30" y="498.50" width="1.4" height="2.70" fill="#ebebeb" stroke="#a8a8a8" stroke-width="0.35"/>
<rect x="407.50" y="496.00" width="1.4" height="5.20" fill="#ebebeb" stroke="#a8a8a8" stroke-width="0.35"/>
<rect x="409.60" y="493.50" width="1.4" height="7.70" fill="#ebebeb" stroke="#a8a8a8" stroke-width="0.35"/>
<line x1="410.30" y1="494.65" x2="410.30" y2="496.19" stroke="#666" stroke-width="0.7" />
<line x1="410.30" y1="493.50" x2="410.30" y2="493.96" stroke="#777" stroke-width="0.6" />
<rect x="411.60" y="492.00" width="1.4" height="9.20" fill="#ebebeb" stroke="#a8a8a8" stroke-width="0.35"/>
<line x1="412.30" y1="493.38" x2="412.30" y2="495.22" stroke="#666" stroke-width="0.7" />
<line x1="412.30" y1="492.00" x2="412.30" y2="492.55" stroke="#777" stroke-width="0.6" />
<rect x="413.90" y="497.50" width="1.4" height="3.70" fill="#ebebeb" stroke="#a8a8a8" stroke-width="0.35"/>
<rect x="416.30" y="498.50" width="1.4" height="2.70" fill="#ebebeb" stroke="#a8a8a8" stroke-width="0.35"/>
<rect x="418.50" y="497.50" width="1.4" height="3.70" fill="#ebebeb" stroke="#a8a8a8" stroke-width="0.35"/>
<rect x="420.50" y="495.50" width="1.4" height="5.70" fill="#ebebeb" stroke="#a8a8a8" stroke-width="0.35"/>
<rect x="422.10" y="494.50" width="1.4" height="6.70" fill="#ebebeb" stroke="#a8a8a8" stroke-width="0.35"/>
<rect x="423.90" y="497.50" width="1.4" height="3.70" fill="#ebebeb" stroke="#a8a8a8" stroke-width="0.35"/>
<line x1="300.80" y1="501.20" x2="428.50" y2="501.20" stroke="#1a1a1a" stroke-width="1.4" />
<text x="248.80" y="463.49" font-size="9.1" text-anchor="middle" fill="#151515" textLength="13.20" lengthAdjust="spacingAndGlyphs" transform="rotate(-90 248.80 460.30)" >HC</text>
<text x="262.70" y="464.82" font-size="7.2" text-anchor="middle" fill="#151515" textLength="48.00" lengthAdjust="spacingAndGlyphs" transform="rotate(-90 262.70 462.30)" stroke="#111" stroke-width="0.3"><tspan font-style="italic">STAT1</tspan> expression</text>
<text x="273.50" y="463.72" font-size="7.2" text-anchor="middle" fill="#151515" textLength="74.50" lengthAdjust="spacingAndGlyphs" transform="rotate(-90 273.50 461.20)" stroke="#111" stroke-width="0.3">[% <tspan font-style="italic">MT-ATP6</tspan>, mean ± SD]</text>
<line x1="365.60" y1="419.60" x2="365.60" y2="501.20" stroke="#444" stroke-width="0.8" />
<text x="334.00" y="416.48" font-size="8.5" text-anchor="middle" fill="#151515" textLength="22.60" lengthAdjust="spacingAndGlyphs" >–IFNa</text>
<text x="398.10" y="416.48" font-size="8.5" text-anchor="middle" fill="#151515" textLength="22.80" lengthAdjust="spacingAndGlyphs" >+IFNa</text>
<line x1="300.80" y1="520.10" x2="300.80" y2="604.90" stroke="#1a1a1a" stroke-width="1.4" />
<line x1="297.60" y1="604.90" x2="300.80" y2="604.90" stroke="#1a1a1a" stroke-width="0.8" />
<text x="295.50" y="607.28" font-size="6.8" text-anchor="end" fill="#1a1a1a" textLength="3.72" lengthAdjust="spacingAndGlyphs" >0</text>
<line x1="297.60" y1="593.26" x2="300.80" y2="593.26" stroke="#1a1a1a" stroke-width="0.8" />
<text x="295.50" y="595.64" font-size="6.8" text-anchor="end" fill="#1a1a1a" textLength="11.16" lengthAdjust="spacingAndGlyphs" >100</text>
<line x1="297.60" y1="581.61" x2="300.80" y2="581.61" stroke="#1a1a1a" stroke-width="0.8" />
<text x="295.50" y="583.99" font-size="6.8" text-anchor="end" fill="#1a1a1a" textLength="11.16" lengthAdjust="spacingAndGlyphs" >200</text>
<line x1="297.60" y1="569.97" x2="300.80" y2="569.97" stroke="#1a1a1a" stroke-width="0.8" />
<text x="295.50" y="572.35" font-size="6.8" text-anchor="end" fill="#1a1a1a" textLength="11.16" lengthAdjust="spacingAndGlyphs" >300</text>
<line x1="297.60" y1="558.33" x2="300.80" y2="558.33" stroke="#1a1a1a" stroke-width="0.8" />
<text x="295.50" y="560.71" font-size="6.8" text-anchor="end" fill="#1a1a1a" textLength="11.16" lengthAdjust="spacingAndGlyphs" >400</text>
<line x1="297.60" y1="546.69" x2="300.80" y2="546.69" stroke="#1a1a1a" stroke-width="0.8" />
<text x="295.50" y="549.07" font-size="6.8" text-anchor="end" fill="#1a1a1a" textLength="11.16" lengthAdjust="spacingAndGlyphs" >500</text>
<line x1="297.60" y1="535.04" x2="300.80" y2="535.04" stroke="#1a1a1a" stroke-width="0.8" />
<text x="295.50" y="537.42" font-size="6.8" text-anchor="end" fill="#1a1a1a" textLength="11.16" lengthAdjust="spacingAndGlyphs" >600</text>
<line x1="297.60" y1="523.40" x2="300.80" y2="523.40" stroke="#1a1a1a" stroke-width="0.8" />
<text x="295.50" y="525.78" font-size="6.8" text-anchor="end" fill="#1a1a1a" textLength="11.16" lengthAdjust="spacingAndGlyphs" >700</text>
<rect x="308.10" y="599.00" width="1.4" height="5.90" fill="#ebebeb" stroke="#a8a8a8" stroke-width="0.35"/>
<rect x="321.00" y="594.00" width="1.4" height="10.90" fill="#ebebeb" stroke="#a8a8a8" stroke-width="0.35"/>
<line x1="321.70" y1="595.63" x2="321.70" y2="597.81" stroke="#666" stroke-width="0.7" />
<line x1="321.70" y1="594.00" x2="321.70" y2="594.65" stroke="#777" stroke-width="0.6" />
<rect x="356.70" y="592.00" width="1.4" height="12.90" fill="#ebebeb" stroke="#a8a8a8" stroke-width="0.35"/>
<line x1="357.40" y1="593.93" x2="357.40" y2="596.51" stroke="#666" stroke-width="0.7" />
<line x1="357.40" y1="592.00" x2="357.40" y2="592.77" stroke="#777" stroke-width="0.6" />
<rect x="361.50" y="600.20" width="1.4" height="4.70" fill="#ebebeb" stroke="#a8a8a8" stroke-width="0.35"/>
<rect x="368.20" y="579.00" width="1.4" height="25.90" fill="#ebebeb" stroke="#a8a8a8" stroke-width="0.35"/>
<line x1="368.90" y1="582.88" x2="368.90" y2="588.06" stroke="#666" stroke-width="0.7" />
<line x1="368.90" y1="579.00" x2="368.90" y2="580.55" stroke="#777" stroke-width="0.6" />
<rect x="369.80" y="602.00" width="1.4" height="2.90" fill="#ebebeb" stroke="#a8a8a8" stroke-width="0.35"/>
<rect x="371.90" y="599.90" width="1.4" height="5.00" fill="#ebebeb" stroke="#a8a8a8" stroke-width="0.35"/>
<rect x="374.20" y="586.00" width="1.4" height="18.90" fill="#ebebeb" stroke="#a8a8a8" stroke-width="0.35"/>
<line x1="374.90" y1="588.84" x2="374.90" y2="592.62" stroke="#666" stroke-width="0.7" />
<line x1="374.90" y1="586.00" x2="374.90" y2="587.13" stroke="#777" stroke-width="0.6" />
<rect x="376.30" y="573.20" width="1.4" height="31.70" fill="#ebebeb" stroke="#a8a8a8" stroke-width="0.35"/>
<line x1="377.00" y1="577.96" x2="377.00" y2="584.30" stroke="#666" stroke-width="0.7" />
<line x1="377.00" y1="573.20" x2="377.00" y2="575.10" stroke="#777" stroke-width="0.6" />
<rect x="378.40" y="594.20" width="1.4" height="10.70" fill="#ebebeb" stroke="#a8a8a8" stroke-width="0.35"/>
<rect x="380.70" y="581.30" width="1.4" height="23.60" fill="#ebebeb" stroke="#a8a8a8" stroke-width="0.35"/>
<line x1="381.40" y1="584.84" x2="381.40" y2="589.56" stroke="#666" stroke-width="0.7" />
<line x1="381.40" y1="581.30" x2="381.40" y2="582.72" stroke="#777" stroke-width="0.6" />
<rect x="382.80" y="597.40" width="1.4" height="7.50" fill="#ebebeb" stroke="#a8a8a8" stroke-width="0.35"/>
<rect x="384.90" y="578.80" width="1.4" height="26.10" fill="#ebebeb" stroke="#a8a8a8" stroke-width="0.35"/>
<line x1="385.60" y1="582.71" x2="385.60" y2="587.93" stroke="#666" stroke-width="0.7" />
<line x1="385.60" y1="578.80" x2="385.60" y2="580.37" stroke="#777" stroke-width="0.6" />
<rect x="386.80" y="585.30" width="1.4" height="19.60" fill="#ebebeb" stroke="#a8a8a8" stroke-width="0.35"/>
<line x1="387.50" y1="588.24" x2="387.50" y2="592.16" stroke="#666" stroke-width="0.7" />
<line x1="387.50" y1="585.30" x2="387.50" y2="586.48" stroke="#777" stroke-width="0.6" />
<rect x="388.90" y="601.50" width="1.4" height="3.40" fill="#ebebeb" stroke="#a8a8a8" stroke-width="0.35"/>
<rect x="391.30" y="569.10" width="1.4" height="35.80" fill="#ebebeb" stroke="#a8a8a8" stroke-width="0.35"/>
<line x1="392.00" y1="574.47" x2="392.00" y2="581.63" stroke="#666" stroke-width="0.7" />
<line x1="392.00" y1="569.10" x2="392.00" y2="571.25" stroke="#777" stroke-width="0.6" />
<rect x="393.30" y="588.50" width="1.4" height="16.40" fill="#ebebeb" stroke="#a8a8a8" stroke-width="0.35"/>
<line x1="394.00" y1="590.96" x2="394.00" y2="594.24" stroke="#666" stroke-width="0.7" />
<line x1="394.00" y1="588.50" x2="394.00" y2="589.48" stroke="#777" stroke-width="0.6" />
<rect x="395.30" y="594.20" width="1.4" height="10.70" fill="#ebebeb" stroke="#a8a8a8" stroke-width="0.35"/>
<rect x="397.50" y="595.00" width="1.4" height="9.90" fill="#ebebeb" stroke="#a8a8a8" stroke-width="0.35"/>
<rect x="399.80" y="588.50" width="1.4" height="16.40" fill="#ebebeb" stroke="#a8a8a8" stroke-width="0.35"/>
<rect x="401.90" y="534.30" width="1.4" height="70.60" fill="#ebebeb" stroke="#a8a8a8" stroke-width="0.35"/>
<line x1="402.60" y1="544.89" x2="402.60" y2="559.01" stroke="#666" stroke-width="0.7" />
<line x1="402.60" y1="534.30" x2="402.60" y2="538.54" stroke="#777" stroke-width="0.6" />
<rect x="403.80" y="593.40" width="1.4" height="11.50" fill="#ebebeb" stroke="#a8a8a8" stroke-width="0.35"/>
<rect x="406.30" y="591.00" width="1.4" height="13.90" fill="#ebebeb" stroke="#a8a8a8" stroke-width="0.35"/>
<rect x="408.30" y="591.00" width="1.4" height="13.90" fill="#ebebeb" stroke="#a8a8a8" stroke-width="0.35"/>
<rect x="410.50" y="592.60" width="1.4" height="12.30" fill="#ebebeb" stroke="#a8a8a8" stroke-width="0.35"/>
<rect x="412.70" y="568.30" width="1.4" height="36.60" fill="#ebebeb" stroke="#a8a8a8" stroke-width="0.35"/>
<line x1="413.40" y1="573.79" x2="413.40" y2="581.11" stroke="#666" stroke-width="0.7" />
<line x1="413.40" y1="568.30" x2="413.40" y2="570.50" stroke="#777" stroke-width="0.6" />
<rect x="414.80" y="597.40" width="1.4" height="7.50" fill="#ebebeb" stroke="#a8a8a8" stroke-width="0.35"/>
<rect x="416.90" y="590.20" width="1.4" height="14.70" fill="#ebebeb" stroke="#a8a8a8" stroke-width="0.35"/>
<rect x="419.10" y="591.80" width="1.4" height="13.10" fill="#ebebeb" stroke="#a8a8a8" stroke-width="0.35"/>
<rect x="421.20" y="591.80" width="1.4" height="13.10" fill="#ebebeb" stroke="#a8a8a8" stroke-width="0.35"/>
<rect x="423.30" y="547.20" width="1.4" height="57.70" fill="#ebebeb" stroke="#a8a8a8" stroke-width="0.35"/>
<line x1="424.00" y1="555.86" x2="424.00" y2="567.39" stroke="#666" stroke-width="0.7" />
<line x1="424.00" y1="547.20" x2="424.00" y2="550.66" stroke="#777" stroke-width="0.6" />
<rect x="425.30" y="581.00" width="1.4" height="23.90" fill="#ebebeb" stroke="#a8a8a8" stroke-width="0.35"/>
<line x1="426.00" y1="584.59" x2="426.00" y2="589.37" stroke="#666" stroke-width="0.7" />
<line x1="426.00" y1="581.00" x2="426.00" y2="582.43" stroke="#777" stroke-width="0.6" />
<rect x="427.30" y="581.50" width="1.4" height="23.40" fill="#ebebeb" stroke="#a8a8a8" stroke-width="0.35"/>
<line x1="428.00" y1="585.01" x2="428.00" y2="589.69" stroke="#666" stroke-width="0.7" />
<line x1="428.00" y1="581.50" x2="428.00" y2="582.90" stroke="#777" stroke-width="0.6" />
<rect x="429.70" y="593.00" width="1.4" height="11.90" fill="#ebebeb" stroke="#a8a8a8" stroke-width="0.35"/>
<rect x="312.30" y="603.60" width="1.4" height="1.30" fill="#ebebeb" stroke="#a8a8a8" stroke-width="0.35"/>
<rect x="316.30" y="603.60" width="1.4" height="1.30" fill="#ebebeb" stroke="#a8a8a8" stroke-width="0.35"/>
<rect x="325.30" y="603.60" width="1.4" height="1.30" fill="#ebebeb" stroke="#a8a8a8" stroke-width="0.35"/>
<rect x="329.30" y="603.60" width="1.4" height="1.30" fill="#ebebeb" stroke="#a8a8a8" stroke-width="0.35"/>
<rect x="334.30" y="603.60" width="1.4" height="1.30" fill="#ebebeb" stroke="#a8a8a8" stroke-width="0.35"/>
<rect x="339.30" y="603.60" width="1.4" height="1.30" fill="#ebebeb" stroke="#a8a8a8" stroke-width="0.35"/>
<rect x="343.30" y="603.60" width="1.4" height="1.30" fill="#ebebeb" stroke="#a8a8a8" stroke-width="0.35"/>
<rect x="347.30" y="603.60" width="1.4" height="1.30" fill="#ebebeb" stroke="#a8a8a8" stroke-width="0.35"/>
<rect x="351.30" y="603.60" width="1.4" height="1.30" fill="#ebebeb" stroke="#a8a8a8" stroke-width="0.35"/>
<line x1="300.80" y1="604.90" x2="434.80" y2="604.90" stroke="#1a1a1a" stroke-width="1.4" />
<text x="248.80" y="567.18" font-size="9.1" text-anchor="middle" fill="#151515" textLength="11.30" lengthAdjust="spacingAndGlyphs" transform="rotate(-90 248.80 564.00)" >PV</text>
<text x="262.10" y="568.32" font-size="7.2" text-anchor="middle" fill="#151515" textLength="47.20" lengthAdjust="spacingAndGlyphs" transform="rotate(-90 262.10 565.80)" stroke="#111" stroke-width="0.3"><tspan font-style="italic">STAT1</tspan> expression</text>
<text x="272.70" y="567.02" font-size="7.2" text-anchor="middle" fill="#151515" textLength="68.00" lengthAdjust="spacingAndGlyphs" transform="rotate(-90 272.70 564.50)" stroke="#111" stroke-width="0.3">[% <tspan font-style="italic">MT-ATP6</tspan>, mean ± SD]</text>
<line x1="366.50" y1="523.60" x2="366.50" y2="604.90" stroke="#444" stroke-width="0.8" />
<text x="334.20" y="520.88" font-size="8.5" text-anchor="middle" fill="#151515" textLength="24.20" lengthAdjust="spacingAndGlyphs" >– IFNa</text>
<text x="397.30" y="520.88" font-size="8.5" text-anchor="middle" fill="#151515" textLength="25.20" lengthAdjust="spacingAndGlyphs" >+ IFNa</text>
<rect x="0.00" y="0.00" width="520.00" height="1.00" fill="#5a5a5a" />
<rect x="0.00" y="0.00" width="1.30" height="617.00" fill="#555" />
<rect x="518.70" y="0.00" width="1.30" height="617.00" fill="#555" />
<rect x="0.00" y="615.70" width="520.00" height="1.30" fill="#555" />
</svg>
</body></html>
